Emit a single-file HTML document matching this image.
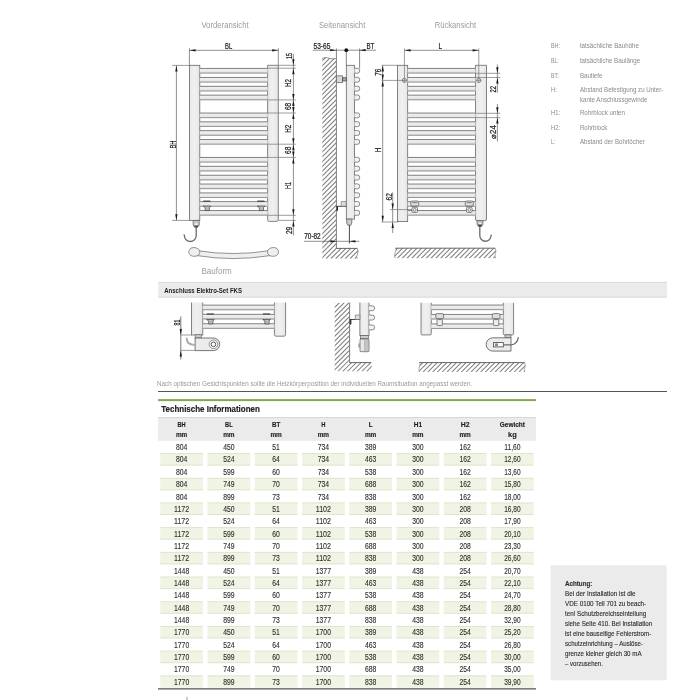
<!DOCTYPE html>
<html><head><meta charset="utf-8"><style>
html,body{margin:0;padding:0;background:#fff;width:700px;height:700px;overflow:hidden;}
</style></head><body>
<svg width="700" height="700" viewBox="0 0 700 700" font-family='"Liberation Sans", sans-serif' style="position:absolute;left:0;top:0;will-change:transform">
<rect width="700" height="700" fill="#fff"/>
<text x="201.4" y="28.3" font-size="8.6" fill="#9a9a9a" font-weight="normal" text-anchor="start" textLength="47.2" lengthAdjust="spacingAndGlyphs" >Vorderansicht</text>
<text x="318.9" y="28.3" font-size="8.6" fill="#9a9a9a" font-weight="normal" text-anchor="start" textLength="46.4" lengthAdjust="spacingAndGlyphs" >Seitenansicht</text>
<text x="434.8" y="28.3" font-size="8.6" fill="#9a9a9a" font-weight="normal" text-anchor="start" textLength="41.2" lengthAdjust="spacingAndGlyphs" >Rückansicht</text>
<defs><linearGradient id="railg" x1="0" y1="0" x2="0" y2="1"><stop offset="0" stop-color="#f2f2f2"/><stop offset="0.5" stop-color="#ebebeb"/><stop offset="1" stop-color="#dcdcdc"/></linearGradient><linearGradient id="colg" x1="0" y1="0" x2="1" y2="0"><stop offset="0" stop-color="#e9e9e9"/><stop offset="0.5" stop-color="#f0f0f0"/><stop offset="1" stop-color="#e6e6e6"/></linearGradient></defs>
<rect x="189.4" y="65.3" width="10.4" height="155.1" fill="url(#colg)" stroke="#666" stroke-width="0.8" rx="0" />
<path d="M267.6,65.3 H278.3 V219.6 Q278.3,221.4 276.5,221.4 H269.4 Q267.6,221.4 267.6,219.6 Z" fill="url(#colg)" stroke="#666" stroke-width="0.8"/>
<rect x="199.8" y="68.3" width="67.80000000000001" height="5.2" fill="url(#railg)" stroke="none" stroke-width="0.8" rx="0" />
<line x1="199.8" y1="68.45" x2="267.6" y2="68.45" stroke="#727272" stroke-width="0.9" />
<line x1="199.8" y1="73.05" x2="267.6" y2="73.05" stroke="#959595" stroke-width="1.0" />
<rect x="199.8" y="77.3" width="67.80000000000001" height="5.2" fill="url(#railg)" stroke="none" stroke-width="0.8" rx="0" />
<line x1="199.8" y1="77.45" x2="267.6" y2="77.45" stroke="#727272" stroke-width="0.9" />
<line x1="199.8" y1="82.05" x2="267.6" y2="82.05" stroke="#959595" stroke-width="1.0" />
<rect x="199.8" y="86.2" width="67.80000000000001" height="5.2" fill="url(#railg)" stroke="none" stroke-width="0.8" rx="0" />
<line x1="199.8" y1="86.35000000000001" x2="267.6" y2="86.35000000000001" stroke="#727272" stroke-width="0.9" />
<line x1="199.8" y1="90.95" x2="267.6" y2="90.95" stroke="#959595" stroke-width="1.0" />
<rect x="199.8" y="95.0" width="67.80000000000001" height="5.2" fill="url(#railg)" stroke="none" stroke-width="0.8" rx="0" />
<line x1="199.8" y1="95.15" x2="267.6" y2="95.15" stroke="#727272" stroke-width="0.9" />
<line x1="199.8" y1="99.75" x2="267.6" y2="99.75" stroke="#959595" stroke-width="1.0" />
<rect x="199.8" y="112.9" width="67.80000000000001" height="5.2" fill="url(#railg)" stroke="none" stroke-width="0.8" rx="0" />
<line x1="199.8" y1="113.05000000000001" x2="267.6" y2="113.05000000000001" stroke="#727272" stroke-width="0.9" />
<line x1="199.8" y1="117.65" x2="267.6" y2="117.65" stroke="#959595" stroke-width="1.0" />
<rect x="199.8" y="121.7" width="67.80000000000001" height="5.2" fill="url(#railg)" stroke="none" stroke-width="0.8" rx="0" />
<line x1="199.8" y1="121.85000000000001" x2="267.6" y2="121.85000000000001" stroke="#727272" stroke-width="0.9" />
<line x1="199.8" y1="126.45" x2="267.6" y2="126.45" stroke="#959595" stroke-width="1.0" />
<rect x="199.8" y="130.5" width="67.80000000000001" height="5.2" fill="url(#railg)" stroke="none" stroke-width="0.8" rx="0" />
<line x1="199.8" y1="130.65" x2="267.6" y2="130.65" stroke="#727272" stroke-width="0.9" />
<line x1="199.8" y1="135.25" x2="267.6" y2="135.25" stroke="#959595" stroke-width="1.0" />
<rect x="199.8" y="139.4" width="67.80000000000001" height="5.2" fill="url(#railg)" stroke="none" stroke-width="0.8" rx="0" />
<line x1="199.8" y1="139.55" x2="267.6" y2="139.55" stroke="#727272" stroke-width="0.9" />
<line x1="199.8" y1="144.15" x2="267.6" y2="144.15" stroke="#959595" stroke-width="1.0" />
<rect x="199.8" y="157.3" width="67.80000000000001" height="5.2" fill="url(#railg)" stroke="none" stroke-width="0.8" rx="0" />
<line x1="199.8" y1="157.45000000000002" x2="267.6" y2="157.45000000000002" stroke="#727272" stroke-width="0.9" />
<line x1="199.8" y1="162.05" x2="267.6" y2="162.05" stroke="#959595" stroke-width="1.0" />
<rect x="199.8" y="166.2" width="67.80000000000001" height="5.2" fill="url(#railg)" stroke="none" stroke-width="0.8" rx="0" />
<line x1="199.8" y1="166.35" x2="267.6" y2="166.35" stroke="#727272" stroke-width="0.9" />
<line x1="199.8" y1="170.95" x2="267.6" y2="170.95" stroke="#959595" stroke-width="1.0" />
<rect x="199.8" y="175.1" width="67.80000000000001" height="5.2" fill="url(#railg)" stroke="none" stroke-width="0.8" rx="0" />
<line x1="199.8" y1="175.25" x2="267.6" y2="175.25" stroke="#727272" stroke-width="0.9" />
<line x1="199.8" y1="179.85" x2="267.6" y2="179.85" stroke="#959595" stroke-width="1.0" />
<rect x="199.8" y="183.9" width="67.80000000000001" height="5.2" fill="url(#railg)" stroke="none" stroke-width="0.8" rx="0" />
<line x1="199.8" y1="184.05" x2="267.6" y2="184.05" stroke="#727272" stroke-width="0.9" />
<line x1="199.8" y1="188.65" x2="267.6" y2="188.65" stroke="#959595" stroke-width="1.0" />
<rect x="199.8" y="192.8" width="67.80000000000001" height="5.2" fill="url(#railg)" stroke="none" stroke-width="0.8" rx="0" />
<line x1="199.8" y1="192.95000000000002" x2="267.6" y2="192.95000000000002" stroke="#727272" stroke-width="0.9" />
<line x1="199.8" y1="197.55" x2="267.6" y2="197.55" stroke="#959595" stroke-width="1.0" />
<rect x="199.8" y="201.5" width="67.80000000000001" height="5.2" fill="url(#railg)" stroke="none" stroke-width="0.8" rx="0" />
<line x1="199.8" y1="201.65" x2="267.6" y2="201.65" stroke="#727272" stroke-width="0.9" />
<line x1="199.8" y1="206.25" x2="267.6" y2="206.25" stroke="#959595" stroke-width="1.0" />
<rect x="199.8" y="210.4" width="67.80000000000001" height="5.2" fill="url(#railg)" stroke="none" stroke-width="0.8" rx="0" />
<line x1="199.8" y1="210.55" x2="267.6" y2="210.55" stroke="#727272" stroke-width="0.9" />
<line x1="199.8" y1="215.15" x2="267.6" y2="215.15" stroke="#959595" stroke-width="1.0" />
<line x1="203.20000000000002" y1="201.2" x2="210.4" y2="201.2" stroke="#444" stroke-width="1.3" />
<path d="M203.0,206.1 H210.8 L209.4,207.6 V210.6 H205.20000000000002 V207.6 Z" fill="#bbb" stroke="#444" stroke-width="0.7"/>
<line x1="257.29999999999995" y1="201.2" x2="264.5" y2="201.2" stroke="#444" stroke-width="1.3" />
<path d="M257.09999999999997,206.1 H264.9 L263.5,207.6 V210.6 H259.29999999999995 V207.6 Z" fill="#bbb" stroke="#444" stroke-width="0.7"/>
<line x1="189.4" y1="48.2" x2="189.4" y2="65.3" stroke="#6a6a6a" stroke-width="0.75" />
<line x1="278.3" y1="48.2" x2="278.3" y2="65.3" stroke="#6a6a6a" stroke-width="0.75" />
<line x1="189.4" y1="50.3" x2="278.3" y2="50.3" stroke="#6a6a6a" stroke-width="0.75" />
<path transform="translate(189.60,50.30) rotate(180)" d="M0,0 L-6.00,-1.15 L-6.00,1.15 Z" fill="#1a1a1a"/>
<path transform="translate(278.10,50.30) rotate(0)" d="M0,0 L-6.00,-1.15 L-6.00,1.15 Z" fill="#1a1a1a"/>
<text x="228.6" y="48.9" font-size="8.2" fill="#1a1a1a" font-weight="normal" text-anchor="middle" textLength="7.1" lengthAdjust="spacingAndGlyphs" stroke="#1a1a1a" stroke-width="0.22">BL</text>
<line x1="172.1" y1="65.4" x2="189.4" y2="65.4" stroke="#7c7c7c" stroke-width="0.75" />
<line x1="172.1" y1="220.4" x2="189.4" y2="220.4" stroke="#7c7c7c" stroke-width="0.75" />
<line x1="176.4" y1="65.4" x2="176.4" y2="220.4" stroke="#6a6a6a" stroke-width="0.75" />
<path transform="translate(176.40,65.60) rotate(-90)" d="M0,0 L-6.00,-1.15 L-6.00,1.15 Z" fill="#1a1a1a"/>
<path transform="translate(176.40,220.20) rotate(90)" d="M0,0 L-6.00,-1.15 L-6.00,1.15 Z" fill="#1a1a1a"/>
<text transform="translate(175.54,144.60) rotate(-90)" x="0" y="0" font-size="8.2" fill="#1a1a1a" stroke="#1a1a1a" stroke-width="0.22" text-anchor="middle" textLength="8" lengthAdjust="spacingAndGlyphs">BH</text>
<line x1="278.3" y1="65.3" x2="295.8" y2="65.3" stroke="#7c7c7c" stroke-width="0.75" />
<line x1="267.6" y1="68.2" x2="295.8" y2="68.2" stroke="#7c7c7c" stroke-width="0.75" />
<line x1="267.6" y1="99.9" x2="295.8" y2="99.9" stroke="#7c7c7c" stroke-width="0.75" />
<line x1="267.6" y1="113.0" x2="295.8" y2="113.0" stroke="#7c7c7c" stroke-width="0.75" />
<line x1="267.6" y1="144.2" x2="295.8" y2="144.2" stroke="#7c7c7c" stroke-width="0.75" />
<line x1="267.6" y1="157.4" x2="295.8" y2="157.4" stroke="#7c7c7c" stroke-width="0.75" />
<line x1="267.6" y1="215.3" x2="295.8" y2="215.3" stroke="#7c7c7c" stroke-width="0.75" />
<line x1="278.3" y1="220.4" x2="295.8" y2="220.4" stroke="#7c7c7c" stroke-width="0.75" />
<line x1="293.4" y1="54.1" x2="293.4" y2="235.4" stroke="#6a6a6a" stroke-width="0.75" />
<path transform="translate(293.40,65.30) rotate(90)" d="M0,0 L-6.00,-1.15 L-6.00,1.15 Z" fill="#1a1a1a"/>
<path transform="translate(293.40,68.20) rotate(-90)" d="M0,0 L-6.00,-1.15 L-6.00,1.15 Z" fill="#1a1a1a"/>
<path transform="translate(293.40,99.90) rotate(90)" d="M0,0 L-6.00,-1.15 L-6.00,1.15 Z" fill="#1a1a1a"/>
<path transform="translate(293.40,99.90) rotate(-90)" d="M0,0 L-6.00,-1.15 L-6.00,1.15 Z" fill="#1a1a1a"/>
<path transform="translate(293.40,113.00) rotate(90)" d="M0,0 L-6.00,-1.15 L-6.00,1.15 Z" fill="#1a1a1a"/>
<path transform="translate(293.40,113.00) rotate(-90)" d="M0,0 L-6.00,-1.15 L-6.00,1.15 Z" fill="#1a1a1a"/>
<path transform="translate(293.40,144.20) rotate(90)" d="M0,0 L-6.00,-1.15 L-6.00,1.15 Z" fill="#1a1a1a"/>
<path transform="translate(293.40,144.20) rotate(-90)" d="M0,0 L-6.00,-1.15 L-6.00,1.15 Z" fill="#1a1a1a"/>
<path transform="translate(293.40,157.40) rotate(90)" d="M0,0 L-6.00,-1.15 L-6.00,1.15 Z" fill="#1a1a1a"/>
<path transform="translate(293.40,157.40) rotate(-90)" d="M0,0 L-6.00,-1.15 L-6.00,1.15 Z" fill="#1a1a1a"/>
<path transform="translate(293.40,215.30) rotate(90)" d="M0,0 L-6.00,-1.15 L-6.00,1.15 Z" fill="#1a1a1a"/>
<path transform="translate(293.40,220.40) rotate(-90)" d="M0,0 L-6.00,-1.15 L-6.00,1.15 Z" fill="#1a1a1a"/>
<text transform="translate(291.74,55.90) rotate(-90)" x="0" y="0" font-size="8.2" fill="#1a1a1a" stroke="#1a1a1a" stroke-width="0.22" text-anchor="middle" textLength="6" lengthAdjust="spacingAndGlyphs">15</text>
<text transform="translate(291.34,83.00) rotate(-90)" x="0" y="0" font-size="8.2" fill="#1a1a1a" stroke="#1a1a1a" stroke-width="0.22" text-anchor="middle" textLength="8" lengthAdjust="spacingAndGlyphs">H2</text>
<text transform="translate(290.94,106.50) rotate(-90)" x="0" y="0" font-size="8.2" fill="#1a1a1a" stroke="#1a1a1a" stroke-width="0.22" text-anchor="middle" textLength="7.2" lengthAdjust="spacingAndGlyphs">68</text>
<text transform="translate(291.14,128.70) rotate(-90)" x="0" y="0" font-size="8.2" fill="#1a1a1a" stroke="#1a1a1a" stroke-width="0.22" text-anchor="middle" textLength="8" lengthAdjust="spacingAndGlyphs">H2</text>
<text transform="translate(290.94,150.30) rotate(-90)" x="0" y="0" font-size="8.2" fill="#1a1a1a" stroke="#1a1a1a" stroke-width="0.22" text-anchor="middle" textLength="7.2" lengthAdjust="spacingAndGlyphs">68</text>
<text transform="translate(291.04,185.40) rotate(-90)" x="0" y="0" font-size="8.2" fill="#1a1a1a" stroke="#1a1a1a" stroke-width="0.22" text-anchor="middle" textLength="7" lengthAdjust="spacingAndGlyphs">H1</text>
<text transform="translate(291.74,230.50) rotate(-90)" x="0" y="0" font-size="8.2" fill="#1a1a1a" stroke="#1a1a1a" stroke-width="0.22" text-anchor="middle" textLength="7.2" lengthAdjust="spacingAndGlyphs">29</text>
<path d="M193.2,220.4 H199.2 V225 L197.8,227.2 H194.6 L193.2,225 Z" fill="#ccc" stroke="#555" stroke-width="0.7"/>
<circle cx="196.2" cy="224.2" r="1" fill="#fff"/>
<path d="M196.2,227.2 V235.6 A5.9,5.9 0 0 1 184.4,235.6 L184,234.4" fill="none" stroke="#707070" stroke-width="1.35"/>
<path d="M194.2,225.4 H198.2 L197.5,227.2 H194.9 Z" fill="#444"/>
<path d="M197,250.6 Q233,256.5 270,250.6 L270,255.6 Q233,261.5 197,255.6 Z" fill="#efefef" stroke="#777" stroke-width="0.8"/>
<path d="M189,250.5 Q190,247.2 194,247.5 Q199.5,248 199.8,251.8 Q200,255.8 195,256.3 Q189.5,256.5 188.8,252.5 Z" fill="#efefef" stroke="#777" stroke-width="0.8"/>
<path d="M278.3,250.5 Q277.3,247.2 273.3,247.5 Q267.8,248 267.5,251.8 Q267.3,255.8 272.3,256.3 Q277.8,256.5 278.5,252.5 Z" fill="#efefef" stroke="#777" stroke-width="0.8"/>
<text x="201.5" y="273.5" font-size="8.6" fill="#9a9a9a" font-weight="normal" text-anchor="start" textLength="30.2" lengthAdjust="spacingAndGlyphs" >Bauform</text>
<clipPath id="wallA"><path d="M322.3,59 Q324.5,56.6 327.5,57.8 Q331,59.2 336.4,58.6 V248.4 H357.3 Q359,251 357.5,254 Q356,256.5 357.2,258.7 H322.3 Z"/></clipPath>
<g clip-path="url(#wallA)" stroke="#7e7e7e" stroke-width="1.05">
<line x1="119.60" y1="258.7" x2="322.30" y2="56"/>
<line x1="124.40" y1="258.7" x2="327.10" y2="56"/>
<line x1="129.20" y1="258.7" x2="331.90" y2="56"/>
<line x1="134.00" y1="258.7" x2="336.70" y2="56"/>
<line x1="138.80" y1="258.7" x2="341.50" y2="56"/>
<line x1="143.60" y1="258.7" x2="346.30" y2="56"/>
<line x1="148.40" y1="258.7" x2="351.10" y2="56"/>
<line x1="153.20" y1="258.7" x2="355.90" y2="56"/>
<line x1="158.00" y1="258.7" x2="360.70" y2="56"/>
<line x1="162.80" y1="258.7" x2="365.50" y2="56"/>
<line x1="167.60" y1="258.7" x2="370.30" y2="56"/>
<line x1="172.40" y1="258.7" x2="375.10" y2="56"/>
<line x1="177.20" y1="258.7" x2="379.90" y2="56"/>
<line x1="182.00" y1="258.7" x2="384.70" y2="56"/>
<line x1="186.80" y1="258.7" x2="389.50" y2="56"/>
<line x1="191.60" y1="258.7" x2="394.30" y2="56"/>
<line x1="196.40" y1="258.7" x2="399.10" y2="56"/>
<line x1="201.20" y1="258.7" x2="403.90" y2="56"/>
<line x1="206.00" y1="258.7" x2="408.70" y2="56"/>
<line x1="210.80" y1="258.7" x2="413.50" y2="56"/>
<line x1="215.60" y1="258.7" x2="418.30" y2="56"/>
<line x1="220.40" y1="258.7" x2="423.10" y2="56"/>
<line x1="225.20" y1="258.7" x2="427.90" y2="56"/>
<line x1="230.00" y1="258.7" x2="432.70" y2="56"/>
<line x1="234.80" y1="258.7" x2="437.50" y2="56"/>
<line x1="239.60" y1="258.7" x2="442.30" y2="56"/>
<line x1="244.40" y1="258.7" x2="447.10" y2="56"/>
<line x1="249.20" y1="258.7" x2="451.90" y2="56"/>
<line x1="254.00" y1="258.7" x2="456.70" y2="56"/>
<line x1="258.80" y1="258.7" x2="461.50" y2="56"/>
<line x1="263.60" y1="258.7" x2="466.30" y2="56"/>
<line x1="268.40" y1="258.7" x2="471.10" y2="56"/>
<line x1="273.20" y1="258.7" x2="475.90" y2="56"/>
<line x1="278.00" y1="258.7" x2="480.70" y2="56"/>
<line x1="282.80" y1="258.7" x2="485.50" y2="56"/>
<line x1="287.60" y1="258.7" x2="490.30" y2="56"/>
<line x1="292.40" y1="258.7" x2="495.10" y2="56"/>
<line x1="297.20" y1="258.7" x2="499.90" y2="56"/>
<line x1="302.00" y1="258.7" x2="504.70" y2="56"/>
<line x1="306.80" y1="258.7" x2="509.50" y2="56"/>
<line x1="311.60" y1="258.7" x2="514.30" y2="56"/>
<line x1="316.40" y1="258.7" x2="519.10" y2="56"/>
<line x1="321.20" y1="258.7" x2="523.90" y2="56"/>
<line x1="326.00" y1="258.7" x2="528.70" y2="56"/>
<line x1="330.80" y1="258.7" x2="533.50" y2="56"/>
<line x1="335.60" y1="258.7" x2="538.30" y2="56"/>
<line x1="340.40" y1="258.7" x2="543.10" y2="56"/>
<line x1="345.20" y1="258.7" x2="547.90" y2="56"/>
<line x1="350.00" y1="258.7" x2="552.70" y2="56"/>
<line x1="354.80" y1="258.7" x2="557.50" y2="56"/>
<line x1="359.60" y1="258.7" x2="562.30" y2="56"/>
</g>
<path d="M322,59 Q324.5,56.6 327.5,57.8 Q331,59.2 336.4,58.6" fill="none" stroke="#777" stroke-width="0.8"/>
<line x1="336.4" y1="48.5" x2="336.4" y2="248.8" stroke="#777" stroke-width="0.95" />
<line x1="336.4" y1="248.4" x2="357.3" y2="248.4" stroke="#555" stroke-width="0.9" />
<path d="M357.3,248.4 Q359,251 357.5,254 Q356,256.5 357.2,258.6" fill="none" stroke="#777" stroke-width="0.7"/>
<line x1="346.3" y1="50.2" x2="346.3" y2="65.3" stroke="#666" stroke-width="0.8" />
<rect x="346.3" y="65.3" width="8.2" height="153.8" fill="url(#colg)" stroke="#666" stroke-width="0.8" rx="0" />
<path d="M354.5,68.30 H357.6 A2.1,2.45 0 0 1 357.6,73.20 H354.5" fill="#f2f2f2" stroke="#666" stroke-width="0.75"/>
<path d="M354.5,77.30 H357.6 A2.1,2.45 0 0 1 357.6,82.20 H354.5" fill="#f2f2f2" stroke="#666" stroke-width="0.75"/>
<path d="M354.5,86.20 H357.6 A2.1,2.45 0 0 1 357.6,91.10 H354.5" fill="#f2f2f2" stroke="#666" stroke-width="0.75"/>
<path d="M354.5,95.00 H357.6 A2.1,2.45 0 0 1 357.6,99.90 H354.5" fill="#f2f2f2" stroke="#666" stroke-width="0.75"/>
<path d="M354.5,112.90 H357.6 A2.1,2.45 0 0 1 357.6,117.80 H354.5" fill="#f2f2f2" stroke="#666" stroke-width="0.75"/>
<path d="M354.5,121.70 H357.6 A2.1,2.45 0 0 1 357.6,126.60 H354.5" fill="#f2f2f2" stroke="#666" stroke-width="0.75"/>
<path d="M354.5,130.50 H357.6 A2.1,2.45 0 0 1 357.6,135.40 H354.5" fill="#f2f2f2" stroke="#666" stroke-width="0.75"/>
<path d="M354.5,139.40 H357.6 A2.1,2.45 0 0 1 357.6,144.30 H354.5" fill="#f2f2f2" stroke="#666" stroke-width="0.75"/>
<path d="M354.5,157.30 H357.6 A2.1,2.45 0 0 1 357.6,162.20 H354.5" fill="#f2f2f2" stroke="#666" stroke-width="0.75"/>
<path d="M354.5,166.20 H357.6 A2.1,2.45 0 0 1 357.6,171.10 H354.5" fill="#f2f2f2" stroke="#666" stroke-width="0.75"/>
<path d="M354.5,175.10 H357.6 A2.1,2.45 0 0 1 357.6,180.00 H354.5" fill="#f2f2f2" stroke="#666" stroke-width="0.75"/>
<path d="M354.5,183.90 H357.6 A2.1,2.45 0 0 1 357.6,188.80 H354.5" fill="#f2f2f2" stroke="#666" stroke-width="0.75"/>
<path d="M354.5,192.80 H357.6 A2.1,2.45 0 0 1 357.6,197.70 H354.5" fill="#f2f2f2" stroke="#666" stroke-width="0.75"/>
<path d="M354.5,201.50 H357.6 A2.1,2.45 0 0 1 357.6,206.40 H354.5" fill="#f2f2f2" stroke="#666" stroke-width="0.75"/>
<path d="M354.5,210.40 H357.6 A2.1,2.45 0 0 1 357.6,215.30 H354.5" fill="#f2f2f2" stroke="#666" stroke-width="0.75"/>
<line x1="359.6" y1="48.5" x2="359.6" y2="68.3" stroke="#666" stroke-width="0.8" />
<line x1="312.6" y1="50.2" x2="376" y2="50.2" stroke="#6a6a6a" stroke-width="0.75" />
<path transform="translate(336.20,50.20) rotate(0)" d="M0,0 L-6.00,-1.15 L-6.00,1.15 Z" fill="#1a1a1a"/>
<path transform="translate(359.60,50.20) rotate(180)" d="M0,0 L-6.00,-1.15 L-6.00,1.15 Z" fill="#1a1a1a"/>
<circle cx="346.3" cy="50.2" r="1.9" fill="#111"/>
<text x="313.5" y="48.9" font-size="8.2" fill="#1a1a1a" font-weight="normal" text-anchor="start" textLength="16.8" lengthAdjust="spacingAndGlyphs" stroke="#1a1a1a" stroke-width="0.22">53-65</text>
<text x="366.5" y="48.9" font-size="8.2" fill="#1a1a1a" font-weight="normal" text-anchor="start" textLength="7.8" lengthAdjust="spacingAndGlyphs" stroke="#1a1a1a" stroke-width="0.22">BT</text>
<path d="M336.4,75.8 H342.6 V82.6 H336.4 Z" fill="#d8d8d8" stroke="#555" stroke-width="0.7"/>
<path d="M342.6,77.7 H346.3 V81 H342.6 Z" fill="#aaa" stroke="#444" stroke-width="0.7"/>
<line x1="336.4" y1="206.3" x2="346.3" y2="206.3" stroke="#333" stroke-width="0.9" />
<path d="M341.2,201.6 H346.2 V206.2 H341.2 Z" fill="#ddd" stroke="#666" stroke-width="0.6"/>
<rect x="336.4" y="206.3" width="1.6" height="4.6" fill="#333" stroke="none" stroke-width="0.8" rx="0" />
<path d="M346.7,219.1 H351.8 V223 L350.8,225.2 H347.7 L346.7,223 Z" fill="#ccc" stroke="#555" stroke-width="0.7"/>
<line x1="349.4" y1="225.2" x2="349.4" y2="243.5" stroke="#333" stroke-width="0.9" />
<line x1="304" y1="241.3" x2="359.3" y2="241.3" stroke="#6a6a6a" stroke-width="0.75" />
<path transform="translate(336.40,241.30) rotate(0)" d="M0,0 L-6.00,-1.15 L-6.00,1.15 Z" fill="#1a1a1a"/>
<path transform="translate(349.40,241.30) rotate(180)" d="M0,0 L-6.00,-1.15 L-6.00,1.15 Z" fill="#1a1a1a"/>
<text x="304.3" y="239.4" font-size="8.2" fill="#1a1a1a" font-weight="normal" text-anchor="start" textLength="16.4" lengthAdjust="spacingAndGlyphs" stroke="#1a1a1a" stroke-width="0.22">70-82</text>
<rect x="397.4" y="65.3" width="10.3" height="156.3" fill="url(#colg)" stroke="#666" stroke-width="0.8" rx="0" />
<path d="M475.5,65.3 H486.5 V219 Q486.5,220.7 484.8,220.7 H477.2 Q475.5,220.7 475.5,219 Z" fill="url(#colg)" stroke="#666" stroke-width="0.8"/>
<rect x="407.7" y="68.3" width="67.80000000000001" height="5.2" fill="url(#railg)" stroke="none" stroke-width="0.8" rx="0" />
<line x1="407.7" y1="68.45" x2="475.5" y2="68.45" stroke="#727272" stroke-width="0.9" />
<line x1="407.7" y1="73.05" x2="475.5" y2="73.05" stroke="#959595" stroke-width="1.0" />
<rect x="407.7" y="77.3" width="67.80000000000001" height="5.2" fill="url(#railg)" stroke="none" stroke-width="0.8" rx="0" />
<line x1="407.7" y1="77.45" x2="475.5" y2="77.45" stroke="#727272" stroke-width="0.9" />
<line x1="407.7" y1="82.05" x2="475.5" y2="82.05" stroke="#959595" stroke-width="1.0" />
<rect x="407.7" y="86.2" width="67.80000000000001" height="5.2" fill="url(#railg)" stroke="none" stroke-width="0.8" rx="0" />
<line x1="407.7" y1="86.35000000000001" x2="475.5" y2="86.35000000000001" stroke="#727272" stroke-width="0.9" />
<line x1="407.7" y1="90.95" x2="475.5" y2="90.95" stroke="#959595" stroke-width="1.0" />
<rect x="407.7" y="95.0" width="67.80000000000001" height="5.2" fill="url(#railg)" stroke="none" stroke-width="0.8" rx="0" />
<line x1="407.7" y1="95.15" x2="475.5" y2="95.15" stroke="#727272" stroke-width="0.9" />
<line x1="407.7" y1="99.75" x2="475.5" y2="99.75" stroke="#959595" stroke-width="1.0" />
<rect x="407.7" y="112.9" width="67.80000000000001" height="5.2" fill="url(#railg)" stroke="none" stroke-width="0.8" rx="0" />
<line x1="407.7" y1="113.05000000000001" x2="475.5" y2="113.05000000000001" stroke="#727272" stroke-width="0.9" />
<line x1="407.7" y1="117.65" x2="475.5" y2="117.65" stroke="#959595" stroke-width="1.0" />
<rect x="407.7" y="121.7" width="67.80000000000001" height="5.2" fill="url(#railg)" stroke="none" stroke-width="0.8" rx="0" />
<line x1="407.7" y1="121.85000000000001" x2="475.5" y2="121.85000000000001" stroke="#727272" stroke-width="0.9" />
<line x1="407.7" y1="126.45" x2="475.5" y2="126.45" stroke="#959595" stroke-width="1.0" />
<rect x="407.7" y="130.5" width="67.80000000000001" height="5.2" fill="url(#railg)" stroke="none" stroke-width="0.8" rx="0" />
<line x1="407.7" y1="130.65" x2="475.5" y2="130.65" stroke="#727272" stroke-width="0.9" />
<line x1="407.7" y1="135.25" x2="475.5" y2="135.25" stroke="#959595" stroke-width="1.0" />
<rect x="407.7" y="139.4" width="67.80000000000001" height="5.2" fill="url(#railg)" stroke="none" stroke-width="0.8" rx="0" />
<line x1="407.7" y1="139.55" x2="475.5" y2="139.55" stroke="#727272" stroke-width="0.9" />
<line x1="407.7" y1="144.15" x2="475.5" y2="144.15" stroke="#959595" stroke-width="1.0" />
<rect x="407.7" y="157.3" width="67.80000000000001" height="5.2" fill="url(#railg)" stroke="none" stroke-width="0.8" rx="0" />
<line x1="407.7" y1="157.45000000000002" x2="475.5" y2="157.45000000000002" stroke="#727272" stroke-width="0.9" />
<line x1="407.7" y1="162.05" x2="475.5" y2="162.05" stroke="#959595" stroke-width="1.0" />
<rect x="407.7" y="166.2" width="67.80000000000001" height="5.2" fill="url(#railg)" stroke="none" stroke-width="0.8" rx="0" />
<line x1="407.7" y1="166.35" x2="475.5" y2="166.35" stroke="#727272" stroke-width="0.9" />
<line x1="407.7" y1="170.95" x2="475.5" y2="170.95" stroke="#959595" stroke-width="1.0" />
<rect x="407.7" y="175.1" width="67.80000000000001" height="5.2" fill="url(#railg)" stroke="none" stroke-width="0.8" rx="0" />
<line x1="407.7" y1="175.25" x2="475.5" y2="175.25" stroke="#727272" stroke-width="0.9" />
<line x1="407.7" y1="179.85" x2="475.5" y2="179.85" stroke="#959595" stroke-width="1.0" />
<rect x="407.7" y="183.9" width="67.80000000000001" height="5.2" fill="url(#railg)" stroke="none" stroke-width="0.8" rx="0" />
<line x1="407.7" y1="184.05" x2="475.5" y2="184.05" stroke="#727272" stroke-width="0.9" />
<line x1="407.7" y1="188.65" x2="475.5" y2="188.65" stroke="#959595" stroke-width="1.0" />
<rect x="407.7" y="192.8" width="67.80000000000001" height="5.2" fill="url(#railg)" stroke="none" stroke-width="0.8" rx="0" />
<line x1="407.7" y1="192.95000000000002" x2="475.5" y2="192.95000000000002" stroke="#727272" stroke-width="0.9" />
<line x1="407.7" y1="197.55" x2="475.5" y2="197.55" stroke="#959595" stroke-width="1.0" />
<rect x="407.7" y="201.5" width="67.80000000000001" height="5.2" fill="url(#railg)" stroke="none" stroke-width="0.8" rx="0" />
<line x1="407.7" y1="201.65" x2="475.5" y2="201.65" stroke="#727272" stroke-width="0.9" />
<line x1="407.7" y1="206.25" x2="475.5" y2="206.25" stroke="#959595" stroke-width="1.0" />
<rect x="407.7" y="210.4" width="67.80000000000001" height="5.2" fill="url(#railg)" stroke="none" stroke-width="0.8" rx="0" />
<line x1="407.7" y1="210.55" x2="475.5" y2="210.55" stroke="#727272" stroke-width="0.9" />
<line x1="407.7" y1="215.15" x2="475.5" y2="215.15" stroke="#959595" stroke-width="1.0" />
<circle cx="404.4" cy="80.4" r="2.1" fill="none" stroke="#666" stroke-width="0.7"/>
<line x1="401.79999999999995" y1="80.4" x2="407.0" y2="80.4" stroke="#666" stroke-width="0.6" />
<line x1="404.4" y1="48.5" x2="404.4" y2="82.8" stroke="#7c7c7c" stroke-width="0.75" />
<circle cx="478.8" cy="80.4" r="2.1" fill="none" stroke="#666" stroke-width="0.7"/>
<line x1="476.2" y1="80.4" x2="481.40000000000003" y2="80.4" stroke="#666" stroke-width="0.6" />
<line x1="478.8" y1="48.5" x2="478.8" y2="82.8" stroke="#7c7c7c" stroke-width="0.75" />
<line x1="404.4" y1="50.3" x2="478.8" y2="50.3" stroke="#6a6a6a" stroke-width="0.75" />
<path transform="translate(404.60,50.30) rotate(180)" d="M0,0 L-6.00,-1.15 L-6.00,1.15 Z" fill="#1a1a1a"/>
<path transform="translate(478.60,50.30) rotate(0)" d="M0,0 L-6.00,-1.15 L-6.00,1.15 Z" fill="#1a1a1a"/>
<text x="440.4" y="49" font-size="8.2" fill="#1a1a1a" font-weight="normal" text-anchor="middle" textLength="3.6" lengthAdjust="spacingAndGlyphs" stroke="#1a1a1a" stroke-width="0.22">L</text>
<line x1="381.6" y1="65.3" x2="397.4" y2="65.3" stroke="#7c7c7c" stroke-width="0.75" />
<line x1="381.6" y1="80.4" x2="404.4" y2="80.4" stroke="#7c7c7c" stroke-width="0.75" />
<line x1="381.6" y1="222" x2="398.3" y2="222" stroke="#7c7c7c" stroke-width="0.75" />
<line x1="382.7" y1="65.3" x2="382.7" y2="222" stroke="#6a6a6a" stroke-width="0.75" />
<path transform="translate(382.70,65.50) rotate(-90)" d="M0,0 L-6.00,-1.15 L-6.00,1.15 Z" fill="#1a1a1a"/>
<path transform="translate(382.70,80.40) rotate(90)" d="M0,0 L-6.00,-1.15 L-6.00,1.15 Z" fill="#1a1a1a"/>
<path transform="translate(382.70,80.40) rotate(-90)" d="M0,0 L-6.00,-1.15 L-6.00,1.15 Z" fill="#1a1a1a"/>
<path transform="translate(382.70,221.80) rotate(90)" d="M0,0 L-6.00,-1.15 L-6.00,1.15 Z" fill="#1a1a1a"/>
<text transform="translate(381.04,72.20) rotate(-90)" x="0" y="0" font-size="8.2" fill="#1a1a1a" stroke="#1a1a1a" stroke-width="0.22" text-anchor="middle" textLength="7" lengthAdjust="spacingAndGlyphs">76</text>
<text transform="translate(380.94,150.00) rotate(-90)" x="0" y="0" font-size="8.2" fill="#1a1a1a" stroke="#1a1a1a" stroke-width="0.22" text-anchor="middle" textLength="4.4" lengthAdjust="spacingAndGlyphs">H</text>
<line x1="392.7" y1="192.4" x2="392.7" y2="233.1" stroke="#6a6a6a" stroke-width="0.75" />
<line x1="390.1" y1="209.6" x2="418" y2="209.6" stroke="#7c7c7c" stroke-width="0.75" />
<path transform="translate(392.70,209.60) rotate(90)" d="M0,0 L-6.00,-1.15 L-6.00,1.15 Z" fill="#1a1a1a"/>
<path transform="translate(392.70,222.00) rotate(-90)" d="M0,0 L-6.00,-1.15 L-6.00,1.15 Z" fill="#1a1a1a"/>
<text transform="translate(391.84,196.80) rotate(-90)" x="0" y="0" font-size="8.2" fill="#1a1a1a" stroke="#1a1a1a" stroke-width="0.22" text-anchor="middle" textLength="7.2" lengthAdjust="spacingAndGlyphs">62</text>
<line x1="475.5" y1="73.3" x2="500.3" y2="73.3" stroke="#7c7c7c" stroke-width="0.75" />
<line x1="475.5" y1="77.5" x2="500.3" y2="77.5" stroke="#7c7c7c" stroke-width="0.75" />
<line x1="475.5" y1="113.3" x2="500.3" y2="113.3" stroke="#7c7c7c" stroke-width="0.75" />
<line x1="475.5" y1="117.6" x2="500.3" y2="117.6" stroke="#7c7c7c" stroke-width="0.75" />
<line x1="497.4" y1="64.4" x2="497.4" y2="92.7" stroke="#6a6a6a" stroke-width="0.75" />
<path transform="translate(497.40,73.30) rotate(90)" d="M0,0 L-6.00,-1.15 L-6.00,1.15 Z" fill="#1a1a1a"/>
<path transform="translate(497.40,77.50) rotate(-90)" d="M0,0 L-6.00,-1.15 L-6.00,1.15 Z" fill="#1a1a1a"/>
<text transform="translate(496.04,89.30) rotate(-90)" x="0" y="0" font-size="8.2" fill="#1a1a1a" stroke="#1a1a1a" stroke-width="0.22" text-anchor="middle" textLength="6.5" lengthAdjust="spacingAndGlyphs">22</text>
<line x1="497.4" y1="103.9" x2="497.4" y2="141.6" stroke="#6a6a6a" stroke-width="0.75" />
<path transform="translate(497.40,113.30) rotate(90)" d="M0,0 L-6.00,-1.15 L-6.00,1.15 Z" fill="#1a1a1a"/>
<path transform="translate(497.40,117.60) rotate(-90)" d="M0,0 L-6.00,-1.15 L-6.00,1.15 Z" fill="#1a1a1a"/>
<text transform="translate(496.34,132.00) rotate(-90)" x="0" y="0" font-size="8.2" fill="#1a1a1a" stroke="#1a1a1a" stroke-width="0.22" text-anchor="middle" textLength="13.5" lengthAdjust="spacingAndGlyphs">⌀24</text>
<rect x="410.7" y="201" width="8" height="5" rx="1.5" fill="#ddd" stroke="#555" stroke-width="0.7"/>
<line x1="412.2" y1="202.6" x2="417.2" y2="202.6" stroke="#555" stroke-width="0.7" />
<rect x="411.9" y="207.2" width="5.6" height="5.2" rx="1" fill="#eee" stroke="#555" stroke-width="0.7"/>
<circle cx="414.7" cy="209.8" r="1.4" fill="none" stroke="#555" stroke-width="0.6"/>
<rect x="465.3" y="201" width="8" height="5" rx="1.5" fill="#ddd" stroke="#555" stroke-width="0.7"/>
<line x1="466.8" y1="202.6" x2="471.8" y2="202.6" stroke="#555" stroke-width="0.7" />
<rect x="466.5" y="207.2" width="5.6" height="5.2" rx="1" fill="#eee" stroke="#555" stroke-width="0.7"/>
<circle cx="469.3" cy="209.8" r="1.4" fill="none" stroke="#555" stroke-width="0.6"/>
<path d="M477.1,220.7 H482.9 V224.4 L481.6,226.4 H478.4 L477.1,224.4 Z" fill="#ccc" stroke="#555" stroke-width="0.7"/>
<circle cx="480" cy="223.6" r="0.9" fill="#fff"/>
<path d="M479.8,226.4 V235.6 A5.6,5.6 0 0 0 491,235.8 L491.4,234.6" fill="none" stroke="#707070" stroke-width="1.35"/>
<path d="M477.9,224.6 H482.1 L481.4,226.4 H478.6 Z" fill="#444"/>
<clipPath id="floorB"><path d="M395.8,248.2 H495.2 Q496.6,251 495.4,253.5 Q494.4,256 495.6,258.3 H395.2 Q393.8,255.5 395,253 Q396.2,250.5 395.8,248.2 Z"/></clipPath>
<g clip-path="url(#floorB)" stroke="#7e7e7e" stroke-width="1.05">
<line x1="382.90" y1="258.3" x2="393.00" y2="248.2"/>
<line x1="387.70" y1="258.3" x2="397.80" y2="248.2"/>
<line x1="392.50" y1="258.3" x2="402.60" y2="248.2"/>
<line x1="397.30" y1="258.3" x2="407.40" y2="248.2"/>
<line x1="402.10" y1="258.3" x2="412.20" y2="248.2"/>
<line x1="406.90" y1="258.3" x2="417.00" y2="248.2"/>
<line x1="411.70" y1="258.3" x2="421.80" y2="248.2"/>
<line x1="416.50" y1="258.3" x2="426.60" y2="248.2"/>
<line x1="421.30" y1="258.3" x2="431.40" y2="248.2"/>
<line x1="426.10" y1="258.3" x2="436.20" y2="248.2"/>
<line x1="430.90" y1="258.3" x2="441.00" y2="248.2"/>
<line x1="435.70" y1="258.3" x2="445.80" y2="248.2"/>
<line x1="440.50" y1="258.3" x2="450.60" y2="248.2"/>
<line x1="445.30" y1="258.3" x2="455.40" y2="248.2"/>
<line x1="450.10" y1="258.3" x2="460.20" y2="248.2"/>
<line x1="454.90" y1="258.3" x2="465.00" y2="248.2"/>
<line x1="459.70" y1="258.3" x2="469.80" y2="248.2"/>
<line x1="464.50" y1="258.3" x2="474.60" y2="248.2"/>
<line x1="469.30" y1="258.3" x2="479.40" y2="248.2"/>
<line x1="474.10" y1="258.3" x2="484.20" y2="248.2"/>
<line x1="478.90" y1="258.3" x2="489.00" y2="248.2"/>
<line x1="483.70" y1="258.3" x2="493.80" y2="248.2"/>
<line x1="488.50" y1="258.3" x2="498.60" y2="248.2"/>
<line x1="493.30" y1="258.3" x2="503.40" y2="248.2"/>
<line x1="498.10" y1="258.3" x2="508.20" y2="248.2"/>
</g>
<path d="M495.2,248.2 Q496.6,251 495.4,253.5 Q494.4,256 495.6,258.3" fill="none" stroke="#8a8a8a" stroke-width="0.7"/>
<path d="M395.8,248.2 Q396.2,250.5 395,253 Q393.8,255.5 395.2,258.3" fill="none" stroke="#8a8a8a" stroke-width="0.7"/>
<line x1="395.5" y1="248.2" x2="495.2" y2="248.2" stroke="#555" stroke-width="0.9" />
<text x="551" y="48.4" font-size="7.0" fill="#8a8a8a" font-weight="normal" text-anchor="start" textLength="9" lengthAdjust="spacingAndGlyphs" >BH:</text>
<text x="579.9" y="48.4" font-size="7.0" fill="#8a8a8a" font-weight="normal" text-anchor="start" textLength="59.1" lengthAdjust="spacingAndGlyphs" >tatsächliche Bauhöhe</text>
<text x="551" y="63" font-size="7.0" fill="#8a8a8a" font-weight="normal" text-anchor="start" textLength="7.8" lengthAdjust="spacingAndGlyphs" >BL:</text>
<text x="579.9" y="63" font-size="7.0" fill="#8a8a8a" font-weight="normal" text-anchor="start" textLength="60.2" lengthAdjust="spacingAndGlyphs" >tatsächliche Baulänge</text>
<text x="551" y="77.5" font-size="7.0" fill="#8a8a8a" font-weight="normal" text-anchor="start" textLength="7.8" lengthAdjust="spacingAndGlyphs" >BT:</text>
<text x="579.9" y="77.5" font-size="7.0" fill="#8a8a8a" font-weight="normal" text-anchor="start" textLength="22.5" lengthAdjust="spacingAndGlyphs" >Bautiefe</text>
<text x="551" y="92" font-size="7.0" fill="#8a8a8a" font-weight="normal" text-anchor="start" textLength="5.8" lengthAdjust="spacingAndGlyphs" >H:</text>
<text x="579.9" y="92" font-size="7.0" fill="#8a8a8a" font-weight="normal" text-anchor="start" textLength="83.4" lengthAdjust="spacingAndGlyphs" >Abstand Befestigung zu Unter-</text>
<text x="579.9" y="102.3" font-size="7.0" fill="#8a8a8a" font-weight="normal" text-anchor="start" textLength="67.6" lengthAdjust="spacingAndGlyphs" >kante Anschlussgewinde</text>
<text x="551" y="115.1" font-size="7.0" fill="#8a8a8a" font-weight="normal" text-anchor="start" textLength="9.1" lengthAdjust="spacingAndGlyphs" >H1:</text>
<text x="579.9" y="115.1" font-size="7.0" fill="#8a8a8a" font-weight="normal" text-anchor="start" textLength="45.1" lengthAdjust="spacingAndGlyphs" >Rohrblock unten</text>
<text x="551" y="129.7" font-size="7.0" fill="#8a8a8a" font-weight="normal" text-anchor="start" textLength="9.1" lengthAdjust="spacingAndGlyphs" >H2:</text>
<text x="579.9" y="129.7" font-size="7.0" fill="#8a8a8a" font-weight="normal" text-anchor="start" textLength="27.3" lengthAdjust="spacingAndGlyphs" >Rohrblock</text>
<text x="551" y="143.8" font-size="7.0" fill="#8a8a8a" font-weight="normal" text-anchor="start" textLength="4.3" lengthAdjust="spacingAndGlyphs" >L:</text>
<text x="579.9" y="143.8" font-size="7.0" fill="#8a8a8a" font-weight="normal" text-anchor="start" textLength="64.9" lengthAdjust="spacingAndGlyphs" >Abstand der Bohrlöcher</text>
<rect x="158.2" y="282" width="508.8" height="15.6" fill="#ebebeb" stroke="none" stroke-width="0.8" rx="0" />
<line x1="158.2" y1="282.4" x2="667" y2="282.4" stroke="#d6dccb" stroke-width="0.9" />
<line x1="158.2" y1="297.2" x2="667" y2="297.2" stroke="#d6dccb" stroke-width="0.9" />
<text x="164.2" y="292.6" font-size="7" fill="#222" font-weight="bold" text-anchor="start" textLength="77.8" lengthAdjust="spacingAndGlyphs" >Anschluss Elektro-Set FKS</text>
<rect x="191.4" y="300" width="11.4" height="35" fill="url(#colg)" stroke="#666" stroke-width="0.8" rx="0" />
<rect x="190" y="298" width="14" height="4.5" fill="#fff"/>
<path d="M274.4,300 H285.6 V334.6 Q285.6,336.2 284,336.2 H276 Q274.4,336.2 274.4,334.6 Z" fill="url(#colg)" stroke="#666" stroke-width="0.8"/>
<rect x="273" y="298" width="14" height="4.5" fill="#fff"/>
<rect x="202.8" y="305" width="71.59999999999997" height="5.2" fill="url(#railg)" stroke="none" stroke-width="0.8" rx="0" />
<line x1="202.8" y1="305.15" x2="274.4" y2="305.15" stroke="#727272" stroke-width="0.9" />
<line x1="202.8" y1="309.75" x2="274.4" y2="309.75" stroke="#959595" stroke-width="1.0" />
<rect x="202.8" y="314.2" width="71.59999999999997" height="5.2" fill="url(#railg)" stroke="none" stroke-width="0.8" rx="0" />
<line x1="202.8" y1="314.34999999999997" x2="274.4" y2="314.34999999999997" stroke="#727272" stroke-width="0.9" />
<line x1="202.8" y1="318.95" x2="274.4" y2="318.95" stroke="#959595" stroke-width="1.0" />
<rect x="202.8" y="323.6" width="71.59999999999997" height="5.2" fill="url(#railg)" stroke="none" stroke-width="0.8" rx="0" />
<line x1="202.8" y1="323.75" x2="274.4" y2="323.75" stroke="#727272" stroke-width="0.9" />
<line x1="202.8" y1="328.35" x2="274.4" y2="328.35" stroke="#959595" stroke-width="1.0" />
<line x1="206.70000000000002" y1="314" x2="213.9" y2="314" stroke="#444" stroke-width="1.2" />
<path d="M206.5,319.5 H214.3 L212.9,321 V324 H208.70000000000002 V321 Z" fill="#bbb" stroke="#444" stroke-width="0.7"/>
<line x1="262.9" y1="314" x2="270.1" y2="314" stroke="#444" stroke-width="1.2" />
<path d="M262.7,319.5 H270.5 L269.1,321 V324 H264.9 V321 Z" fill="#bbb" stroke="#444" stroke-width="0.7"/>
<line x1="180.8" y1="316.5" x2="180.8" y2="359.5" stroke="#555" stroke-width="0.8" />
<line x1="180.8" y1="335" x2="191.4" y2="335" stroke="#777" stroke-width="0.7" />
<line x1="180.8" y1="350.4" x2="195.1" y2="350.4" stroke="#777" stroke-width="0.7" />
<path transform="translate(180.80,335.00) rotate(90)" d="M0,0 L-6.00,-1.15 L-6.00,1.15 Z" fill="#1a1a1a"/>
<path transform="translate(180.80,350.40) rotate(-90)" d="M0,0 L-6.00,-1.15 L-6.00,1.15 Z" fill="#1a1a1a"/>
<text transform="translate(179.94,322.50) rotate(-90)" x="0" y="0" font-size="8.2" fill="#1a1a1a" stroke="#1a1a1a" stroke-width="0.22" text-anchor="middle" textLength="6" lengthAdjust="spacingAndGlyphs">81</text>
<rect x="195.1" y="334.8" width="6.1" height="3.2" fill="#ccc" stroke="#555" stroke-width="0.6" rx="0" />
<path d="M195.1,338 H213.4 A6.3,6.3 0 0 1 213.4,350.6 H195.1 Z" fill="#ececec" stroke="#555" stroke-width="0.8"/>
<circle cx="213.4" cy="344.3" r="4.3" fill="#fff" stroke="#777" stroke-width="0.8"/>
<circle cx="213.4" cy="344.3" r="2.3" fill="#fff" stroke="#444" stroke-width="0.9"/>
<path d="M186.6,337.8 Q186.2,344.6 194.8,345" fill="none" stroke="#8a8a8a" stroke-width="1.7"/>
<path d="M186.6,337.8 Q186.2,344.6 194.8,345" fill="none" stroke="#d8d8d8" stroke-width="0.6"/>
<clipPath id="wallC"><path d="M334.7,302.6 H349.6 V362.6 H371.3 Q372.5,365 371.3,367.5 Q370.5,369.5 371.3,371.5 H334.7 Z"/></clipPath>
<g clip-path="url(#wallC)" stroke="#7e7e7e" stroke-width="1.05">
<line x1="265.80" y1="371.5" x2="334.70" y2="302.6"/>
<line x1="270.60" y1="371.5" x2="339.50" y2="302.6"/>
<line x1="275.40" y1="371.5" x2="344.30" y2="302.6"/>
<line x1="280.20" y1="371.5" x2="349.10" y2="302.6"/>
<line x1="285.00" y1="371.5" x2="353.90" y2="302.6"/>
<line x1="289.80" y1="371.5" x2="358.70" y2="302.6"/>
<line x1="294.60" y1="371.5" x2="363.50" y2="302.6"/>
<line x1="299.40" y1="371.5" x2="368.30" y2="302.6"/>
<line x1="304.20" y1="371.5" x2="373.10" y2="302.6"/>
<line x1="309.00" y1="371.5" x2="377.90" y2="302.6"/>
<line x1="313.80" y1="371.5" x2="382.70" y2="302.6"/>
<line x1="318.60" y1="371.5" x2="387.50" y2="302.6"/>
<line x1="323.40" y1="371.5" x2="392.30" y2="302.6"/>
<line x1="328.20" y1="371.5" x2="397.10" y2="302.6"/>
<line x1="333.00" y1="371.5" x2="401.90" y2="302.6"/>
<line x1="337.80" y1="371.5" x2="406.70" y2="302.6"/>
<line x1="342.60" y1="371.5" x2="411.50" y2="302.6"/>
<line x1="347.40" y1="371.5" x2="416.30" y2="302.6"/>
<line x1="352.20" y1="371.5" x2="421.10" y2="302.6"/>
<line x1="357.00" y1="371.5" x2="425.90" y2="302.6"/>
<line x1="361.80" y1="371.5" x2="430.70" y2="302.6"/>
<line x1="366.60" y1="371.5" x2="435.50" y2="302.6"/>
<line x1="371.40" y1="371.5" x2="440.30" y2="302.6"/>
<line x1="376.20" y1="371.5" x2="445.10" y2="302.6"/>
</g>
<line x1="349.6" y1="302.6" x2="349.6" y2="362.6" stroke="#777" stroke-width="0.95" />
<line x1="349.6" y1="362.6" x2="371.3" y2="362.6" stroke="#555" stroke-width="0.9" />
<rect x="359.9" y="300" width="9.1" height="35.7" fill="url(#colg)" stroke="#666" stroke-width="0.8" rx="0" />
<rect x="355" y="298" width="22" height="4.6" fill="#fff"/>
<path d="M369,305.80 H372.3 A2.3,2.45 0 0 1 372.3,310.70 H369" fill="#f2f2f2" stroke="#666" stroke-width="0.75"/>
<path d="M369,315.10 H372.3 A2.3,2.45 0 0 1 372.3,320.00 H369" fill="#f2f2f2" stroke="#666" stroke-width="0.75"/>
<path d="M369,325.00 H372.3 A2.3,2.45 0 0 1 372.3,329.90 H369" fill="#f2f2f2" stroke="#666" stroke-width="0.75"/>
<line x1="349.6" y1="319.5" x2="359.9" y2="319.5" stroke="#333" stroke-width="0.9" />
<path d="M355.3,315 H359.9 V319.5 H355.3 Z" fill="#ddd" stroke="#666" stroke-width="0.6"/>
<rect x="349.6" y="319.5" width="1.8" height="5" fill="#333" stroke="none" stroke-width="0.8" rx="0" />
<rect x="360.5" y="335.7" width="8" height="3" fill="#ccc" stroke="#555" stroke-width="0.6" rx="0" />
<rect x="360" y="339" width="9" height="12.7" rx="1" fill="#e8e8e8" stroke="#555" stroke-width="0.7"/>
<line x1="364.5" y1="339.5" x2="364.5" y2="351.3" stroke="#999" stroke-width="0.6" />
<line x1="365.7" y1="339.5" x2="365.7" y2="351.3" stroke="#999" stroke-width="0.6" />
<line x1="366.9" y1="339.5" x2="366.9" y2="351.3" stroke="#999" stroke-width="0.6" />
<line x1="368" y1="339.5" x2="368" y2="351.3" stroke="#999" stroke-width="0.6" />
<line x1="359" y1="343.5" x2="359" y2="347.5" stroke="#777" stroke-width="1" />
<rect x="421" y="300" width="10.3" height="34.9" fill="url(#colg)" stroke="#666" stroke-width="0.8" rx="1.2" />
<rect x="503.3" y="300" width="10.3" height="34.9" fill="url(#colg)" stroke="#666" stroke-width="0.8" rx="1.2" />
<rect x="419" y="298" width="97" height="4.8" fill="#fff"/>
<rect x="431.3" y="304.9" width="72.0" height="5.2" fill="url(#railg)" stroke="none" stroke-width="0.8" rx="0" />
<line x1="431.3" y1="305.04999999999995" x2="503.3" y2="305.04999999999995" stroke="#727272" stroke-width="0.9" />
<line x1="431.3" y1="309.65" x2="503.3" y2="309.65" stroke="#959595" stroke-width="1.0" />
<rect x="431.3" y="314.3" width="72.0" height="5.2" fill="url(#railg)" stroke="none" stroke-width="0.8" rx="0" />
<line x1="431.3" y1="314.45" x2="503.3" y2="314.45" stroke="#727272" stroke-width="0.9" />
<line x1="431.3" y1="319.05" x2="503.3" y2="319.05" stroke="#959595" stroke-width="1.0" />
<rect x="431.3" y="323.8" width="72.0" height="5.2" fill="url(#railg)" stroke="none" stroke-width="0.8" rx="0" />
<line x1="431.3" y1="323.95" x2="503.3" y2="323.95" stroke="#727272" stroke-width="0.9" />
<line x1="431.3" y1="328.55" x2="503.3" y2="328.55" stroke="#959595" stroke-width="1.0" />
<rect x="435.8" y="313.6" width="7.8" height="5" rx="1.4" fill="#ddd" stroke="#555" stroke-width="0.7"/>
<rect x="437.0" y="319.6" width="5.4" height="6" rx="0.8" fill="#eee" stroke="#555" stroke-width="0.7"/>
<rect x="492.2" y="313.6" width="7.8" height="5" rx="1.4" fill="#ddd" stroke="#555" stroke-width="0.7"/>
<rect x="493.4" y="319.6" width="5.4" height="6" rx="0.8" fill="#eee" stroke="#555" stroke-width="0.7"/>
<rect x="505" y="334.9" width="6" height="2.9" fill="#ccc" stroke="#555" stroke-width="0.6" rx="0" />
<path d="M511,337.8 H492.8 A6.65,6.65 0 0 0 492.8,351.1 H511 Z" fill="#ececec" stroke="#555" stroke-width="0.8"/>
<rect x="493.5" y="342.6" width="9.8" height="4.3" fill="#fff" stroke="#444" stroke-width="0.8"/>
<rect x="495" y="343.4" width="3" height="2.7" fill="#888" stroke="none" stroke-width="0.8" rx="0" />
<path d="M503.3,344.8 H511 Q517.2,344.8 518.4,337.2" fill="none" stroke="#6e6e6e" stroke-width="1.25"/>
<clipPath id="floorD"><path d="M420,362.6 H524.7 Q525.9,365.5 524.8,367.5 Q523.8,369.5 524.9,372 H419.5 Q418.3,369.5 419.3,367.3 Q420.4,365 420,362.6 Z"/></clipPath>
<g clip-path="url(#floorD)" stroke="#7e7e7e" stroke-width="1.05">
<line x1="408.60" y1="372" x2="418.00" y2="362.6"/>
<line x1="413.40" y1="372" x2="422.80" y2="362.6"/>
<line x1="418.20" y1="372" x2="427.60" y2="362.6"/>
<line x1="423.00" y1="372" x2="432.40" y2="362.6"/>
<line x1="427.80" y1="372" x2="437.20" y2="362.6"/>
<line x1="432.60" y1="372" x2="442.00" y2="362.6"/>
<line x1="437.40" y1="372" x2="446.80" y2="362.6"/>
<line x1="442.20" y1="372" x2="451.60" y2="362.6"/>
<line x1="447.00" y1="372" x2="456.40" y2="362.6"/>
<line x1="451.80" y1="372" x2="461.20" y2="362.6"/>
<line x1="456.60" y1="372" x2="466.00" y2="362.6"/>
<line x1="461.40" y1="372" x2="470.80" y2="362.6"/>
<line x1="466.20" y1="372" x2="475.60" y2="362.6"/>
<line x1="471.00" y1="372" x2="480.40" y2="362.6"/>
<line x1="475.80" y1="372" x2="485.20" y2="362.6"/>
<line x1="480.60" y1="372" x2="490.00" y2="362.6"/>
<line x1="485.40" y1="372" x2="494.80" y2="362.6"/>
<line x1="490.20" y1="372" x2="499.60" y2="362.6"/>
<line x1="495.00" y1="372" x2="504.40" y2="362.6"/>
<line x1="499.80" y1="372" x2="509.20" y2="362.6"/>
<line x1="504.60" y1="372" x2="514.00" y2="362.6"/>
<line x1="509.40" y1="372" x2="518.80" y2="362.6"/>
<line x1="514.20" y1="372" x2="523.60" y2="362.6"/>
<line x1="519.00" y1="372" x2="528.40" y2="362.6"/>
<line x1="523.80" y1="372" x2="533.20" y2="362.6"/>
<line x1="528.60" y1="372" x2="538.00" y2="362.6"/>
</g>
<path d="M524.7,362.6 Q525.9,365.5 524.8,367.5 Q523.8,369.5 524.9,372" fill="none" stroke="#8a8a8a" stroke-width="0.7"/>
<path d="M420,362.6 Q420.4,365 419.3,367.3 Q418.3,369.5 419.5,372" fill="none" stroke="#8a8a8a" stroke-width="0.7"/>
<line x1="419.3" y1="362.6" x2="524.7" y2="362.6" stroke="#555" stroke-width="0.9" />
<text x="157.1" y="385.7" font-size="7.1" fill="#999" font-weight="normal" text-anchor="start" textLength="315.2" lengthAdjust="spacingAndGlyphs" >Nach optischen Gesichtspunkten sollte die Heizkörperposition der individuellen Raumsituation angepasst werden.</text>
<line x1="158" y1="391.5" x2="667" y2="391.5" stroke="#555" stroke-width="1" />
<rect x="158" y="399.1" width="378" height="2.0" fill="#84a94c" stroke="none" stroke-width="0.8" rx="0" />
<text x="161.3" y="411.8" font-size="9.2" fill="#222" font-weight="bold" text-anchor="start" textLength="98.5" lengthAdjust="spacingAndGlyphs" stroke="#222" stroke-width="0.2">Technische Informationen</text>
<rect x="158" y="417.1" width="378" height="23.7" fill="#ebebeb" stroke="none" stroke-width="0.8" rx="0" />
<line x1="158" y1="417.5" x2="536" y2="417.5" stroke="#d3dac7" stroke-width="0.9" />
<text x="181.62" y="427" font-size="7.5" fill="#1e1e1e" font-weight="bold" text-anchor="middle" textLength="8.2" lengthAdjust="spacingAndGlyphs" stroke="#1e1e1e" stroke-width="0.15">BH</text>
<text x="181.62" y="437" font-size="7.5" fill="#1e1e1e" font-weight="bold" text-anchor="middle" textLength="11.4" lengthAdjust="spacingAndGlyphs" stroke="#1e1e1e" stroke-width="0.15">mm</text>
<text x="228.88" y="427" font-size="7.5" fill="#1e1e1e" font-weight="bold" text-anchor="middle" textLength="7.6" lengthAdjust="spacingAndGlyphs" stroke="#1e1e1e" stroke-width="0.15">BL</text>
<text x="228.88" y="437" font-size="7.5" fill="#1e1e1e" font-weight="bold" text-anchor="middle" textLength="11.4" lengthAdjust="spacingAndGlyphs" stroke="#1e1e1e" stroke-width="0.15">mm</text>
<text x="276.12" y="427" font-size="7.5" fill="#1e1e1e" font-weight="bold" text-anchor="middle" textLength="8.3" lengthAdjust="spacingAndGlyphs" stroke="#1e1e1e" stroke-width="0.15">BT</text>
<text x="276.12" y="437" font-size="7.5" fill="#1e1e1e" font-weight="bold" text-anchor="middle" textLength="11.4" lengthAdjust="spacingAndGlyphs" stroke="#1e1e1e" stroke-width="0.15">mm</text>
<text x="323.38" y="427" font-size="7.5" fill="#1e1e1e" font-weight="bold" text-anchor="middle" textLength="4.2" lengthAdjust="spacingAndGlyphs" stroke="#1e1e1e" stroke-width="0.15">H</text>
<text x="323.38" y="437" font-size="7.5" fill="#1e1e1e" font-weight="bold" text-anchor="middle" textLength="11.4" lengthAdjust="spacingAndGlyphs" stroke="#1e1e1e" stroke-width="0.15">mm</text>
<text x="370.62" y="427" font-size="7.5" fill="#1e1e1e" font-weight="bold" text-anchor="middle" textLength="3.8" lengthAdjust="spacingAndGlyphs" stroke="#1e1e1e" stroke-width="0.15">L</text>
<text x="370.62" y="437" font-size="7.5" fill="#1e1e1e" font-weight="bold" text-anchor="middle" textLength="11.4" lengthAdjust="spacingAndGlyphs" stroke="#1e1e1e" stroke-width="0.15">mm</text>
<text x="417.88" y="427" font-size="7.5" fill="#1e1e1e" font-weight="bold" text-anchor="middle" textLength="8.3" lengthAdjust="spacingAndGlyphs" stroke="#1e1e1e" stroke-width="0.15">H1</text>
<text x="417.88" y="437" font-size="7.5" fill="#1e1e1e" font-weight="bold" text-anchor="middle" textLength="11.4" lengthAdjust="spacingAndGlyphs" stroke="#1e1e1e" stroke-width="0.15">mm</text>
<text x="465.12" y="427" font-size="7.5" fill="#1e1e1e" font-weight="bold" text-anchor="middle" textLength="8.8" lengthAdjust="spacingAndGlyphs" stroke="#1e1e1e" stroke-width="0.15">H2</text>
<text x="465.12" y="437" font-size="7.5" fill="#1e1e1e" font-weight="bold" text-anchor="middle" textLength="11.4" lengthAdjust="spacingAndGlyphs" stroke="#1e1e1e" stroke-width="0.15">mm</text>
<text x="512.38" y="427" font-size="7.5" fill="#1e1e1e" font-weight="bold" text-anchor="middle" textLength="25.2" lengthAdjust="spacingAndGlyphs" stroke="#1e1e1e" stroke-width="0.15">Gewicht</text>
<text x="512.38" y="437" font-size="7.5" fill="#1e1e1e" font-weight="bold" text-anchor="middle" textLength="8.6" lengthAdjust="spacingAndGlyphs" stroke="#1e1e1e" stroke-width="0.15">kg</text>
<text x="181.62" y="450.10" font-size="8.2" fill="#2e2e2e" font-weight="normal" text-anchor="middle" textLength="11.4" lengthAdjust="spacingAndGlyphs" stroke="#2e2e2e" stroke-width="0.12">804</text>
<text x="228.88" y="450.10" font-size="8.2" fill="#2e2e2e" font-weight="normal" text-anchor="middle" textLength="11.4" lengthAdjust="spacingAndGlyphs" stroke="#2e2e2e" stroke-width="0.12">450</text>
<text x="276.12" y="450.10" font-size="8.2" fill="#2e2e2e" font-weight="normal" text-anchor="middle" textLength="7.6" lengthAdjust="spacingAndGlyphs" stroke="#2e2e2e" stroke-width="0.12">51</text>
<text x="323.38" y="450.10" font-size="8.2" fill="#2e2e2e" font-weight="normal" text-anchor="middle" textLength="11.4" lengthAdjust="spacingAndGlyphs" stroke="#2e2e2e" stroke-width="0.12">734</text>
<text x="370.62" y="450.10" font-size="8.2" fill="#2e2e2e" font-weight="normal" text-anchor="middle" textLength="11.4" lengthAdjust="spacingAndGlyphs" stroke="#2e2e2e" stroke-width="0.12">389</text>
<text x="417.88" y="450.10" font-size="8.2" fill="#2e2e2e" font-weight="normal" text-anchor="middle" textLength="11.4" lengthAdjust="spacingAndGlyphs" stroke="#2e2e2e" stroke-width="0.12">300</text>
<text x="465.12" y="450.10" font-size="8.2" fill="#2e2e2e" font-weight="normal" text-anchor="middle" textLength="11.4" lengthAdjust="spacingAndGlyphs" stroke="#2e2e2e" stroke-width="0.12">162</text>
<text x="512.38" y="450.10" font-size="8.2" fill="#2e2e2e" font-weight="normal" text-anchor="middle" textLength="16.4" lengthAdjust="spacingAndGlyphs" stroke="#2e2e2e" stroke-width="0.12">11,60</text>
<rect x="160.25" y="453.15" width="42.75" height="12.35" fill="#f0f4e5" stroke="none" stroke-width="0.8" rx="0" />
<line x1="160.25" y1="453.55" x2="203.00" y2="453.55" stroke="#d9e2c6" stroke-width="0.8" />
<line x1="160.25" y1="465.10" x2="203.00" y2="465.10" stroke="#d9e2c6" stroke-width="0.8" />
<rect x="207.50" y="453.15" width="42.75" height="12.35" fill="#f0f4e5" stroke="none" stroke-width="0.8" rx="0" />
<line x1="207.50" y1="453.55" x2="250.25" y2="453.55" stroke="#d9e2c6" stroke-width="0.8" />
<line x1="207.50" y1="465.10" x2="250.25" y2="465.10" stroke="#d9e2c6" stroke-width="0.8" />
<rect x="254.75" y="453.15" width="42.75" height="12.35" fill="#f0f4e5" stroke="none" stroke-width="0.8" rx="0" />
<line x1="254.75" y1="453.55" x2="297.50" y2="453.55" stroke="#d9e2c6" stroke-width="0.8" />
<line x1="254.75" y1="465.10" x2="297.50" y2="465.10" stroke="#d9e2c6" stroke-width="0.8" />
<rect x="302.00" y="453.15" width="42.75" height="12.35" fill="#f0f4e5" stroke="none" stroke-width="0.8" rx="0" />
<line x1="302.00" y1="453.55" x2="344.75" y2="453.55" stroke="#d9e2c6" stroke-width="0.8" />
<line x1="302.00" y1="465.10" x2="344.75" y2="465.10" stroke="#d9e2c6" stroke-width="0.8" />
<rect x="349.25" y="453.15" width="42.75" height="12.35" fill="#f0f4e5" stroke="none" stroke-width="0.8" rx="0" />
<line x1="349.25" y1="453.55" x2="392.00" y2="453.55" stroke="#d9e2c6" stroke-width="0.8" />
<line x1="349.25" y1="465.10" x2="392.00" y2="465.10" stroke="#d9e2c6" stroke-width="0.8" />
<rect x="396.50" y="453.15" width="42.75" height="12.35" fill="#f0f4e5" stroke="none" stroke-width="0.8" rx="0" />
<line x1="396.50" y1="453.55" x2="439.25" y2="453.55" stroke="#d9e2c6" stroke-width="0.8" />
<line x1="396.50" y1="465.10" x2="439.25" y2="465.10" stroke="#d9e2c6" stroke-width="0.8" />
<rect x="443.75" y="453.15" width="42.75" height="12.35" fill="#f0f4e5" stroke="none" stroke-width="0.8" rx="0" />
<line x1="443.75" y1="453.55" x2="486.50" y2="453.55" stroke="#d9e2c6" stroke-width="0.8" />
<line x1="443.75" y1="465.10" x2="486.50" y2="465.10" stroke="#d9e2c6" stroke-width="0.8" />
<rect x="491.00" y="453.15" width="42.75" height="12.35" fill="#f0f4e5" stroke="none" stroke-width="0.8" rx="0" />
<line x1="491.00" y1="453.55" x2="533.75" y2="453.55" stroke="#d9e2c6" stroke-width="0.8" />
<line x1="491.00" y1="465.10" x2="533.75" y2="465.10" stroke="#d9e2c6" stroke-width="0.8" />
<text x="181.62" y="462.45" font-size="8.2" fill="#2e2e2e" font-weight="normal" text-anchor="middle" textLength="11.4" lengthAdjust="spacingAndGlyphs" stroke="#2e2e2e" stroke-width="0.12">804</text>
<text x="228.88" y="462.45" font-size="8.2" fill="#2e2e2e" font-weight="normal" text-anchor="middle" textLength="11.4" lengthAdjust="spacingAndGlyphs" stroke="#2e2e2e" stroke-width="0.12">524</text>
<text x="276.12" y="462.45" font-size="8.2" fill="#2e2e2e" font-weight="normal" text-anchor="middle" textLength="7.6" lengthAdjust="spacingAndGlyphs" stroke="#2e2e2e" stroke-width="0.12">64</text>
<text x="323.38" y="462.45" font-size="8.2" fill="#2e2e2e" font-weight="normal" text-anchor="middle" textLength="11.4" lengthAdjust="spacingAndGlyphs" stroke="#2e2e2e" stroke-width="0.12">734</text>
<text x="370.62" y="462.45" font-size="8.2" fill="#2e2e2e" font-weight="normal" text-anchor="middle" textLength="11.4" lengthAdjust="spacingAndGlyphs" stroke="#2e2e2e" stroke-width="0.12">463</text>
<text x="417.88" y="462.45" font-size="8.2" fill="#2e2e2e" font-weight="normal" text-anchor="middle" textLength="11.4" lengthAdjust="spacingAndGlyphs" stroke="#2e2e2e" stroke-width="0.12">300</text>
<text x="465.12" y="462.45" font-size="8.2" fill="#2e2e2e" font-weight="normal" text-anchor="middle" textLength="11.4" lengthAdjust="spacingAndGlyphs" stroke="#2e2e2e" stroke-width="0.12">162</text>
<text x="512.38" y="462.45" font-size="8.2" fill="#2e2e2e" font-weight="normal" text-anchor="middle" textLength="16.4" lengthAdjust="spacingAndGlyphs" stroke="#2e2e2e" stroke-width="0.12">12,60</text>
<text x="181.62" y="474.80" font-size="8.2" fill="#2e2e2e" font-weight="normal" text-anchor="middle" textLength="11.4" lengthAdjust="spacingAndGlyphs" stroke="#2e2e2e" stroke-width="0.12">804</text>
<text x="228.88" y="474.80" font-size="8.2" fill="#2e2e2e" font-weight="normal" text-anchor="middle" textLength="11.4" lengthAdjust="spacingAndGlyphs" stroke="#2e2e2e" stroke-width="0.12">599</text>
<text x="276.12" y="474.80" font-size="8.2" fill="#2e2e2e" font-weight="normal" text-anchor="middle" textLength="7.6" lengthAdjust="spacingAndGlyphs" stroke="#2e2e2e" stroke-width="0.12">60</text>
<text x="323.38" y="474.80" font-size="8.2" fill="#2e2e2e" font-weight="normal" text-anchor="middle" textLength="11.4" lengthAdjust="spacingAndGlyphs" stroke="#2e2e2e" stroke-width="0.12">734</text>
<text x="370.62" y="474.80" font-size="8.2" fill="#2e2e2e" font-weight="normal" text-anchor="middle" textLength="11.4" lengthAdjust="spacingAndGlyphs" stroke="#2e2e2e" stroke-width="0.12">538</text>
<text x="417.88" y="474.80" font-size="8.2" fill="#2e2e2e" font-weight="normal" text-anchor="middle" textLength="11.4" lengthAdjust="spacingAndGlyphs" stroke="#2e2e2e" stroke-width="0.12">300</text>
<text x="465.12" y="474.80" font-size="8.2" fill="#2e2e2e" font-weight="normal" text-anchor="middle" textLength="11.4" lengthAdjust="spacingAndGlyphs" stroke="#2e2e2e" stroke-width="0.12">162</text>
<text x="512.38" y="474.80" font-size="8.2" fill="#2e2e2e" font-weight="normal" text-anchor="middle" textLength="16.4" lengthAdjust="spacingAndGlyphs" stroke="#2e2e2e" stroke-width="0.12">13,60</text>
<rect x="160.25" y="477.85" width="42.75" height="12.35" fill="#f0f4e5" stroke="none" stroke-width="0.8" rx="0" />
<line x1="160.25" y1="478.25" x2="203.00" y2="478.25" stroke="#d9e2c6" stroke-width="0.8" />
<line x1="160.25" y1="489.80" x2="203.00" y2="489.80" stroke="#d9e2c6" stroke-width="0.8" />
<rect x="207.50" y="477.85" width="42.75" height="12.35" fill="#f0f4e5" stroke="none" stroke-width="0.8" rx="0" />
<line x1="207.50" y1="478.25" x2="250.25" y2="478.25" stroke="#d9e2c6" stroke-width="0.8" />
<line x1="207.50" y1="489.80" x2="250.25" y2="489.80" stroke="#d9e2c6" stroke-width="0.8" />
<rect x="254.75" y="477.85" width="42.75" height="12.35" fill="#f0f4e5" stroke="none" stroke-width="0.8" rx="0" />
<line x1="254.75" y1="478.25" x2="297.50" y2="478.25" stroke="#d9e2c6" stroke-width="0.8" />
<line x1="254.75" y1="489.80" x2="297.50" y2="489.80" stroke="#d9e2c6" stroke-width="0.8" />
<rect x="302.00" y="477.85" width="42.75" height="12.35" fill="#f0f4e5" stroke="none" stroke-width="0.8" rx="0" />
<line x1="302.00" y1="478.25" x2="344.75" y2="478.25" stroke="#d9e2c6" stroke-width="0.8" />
<line x1="302.00" y1="489.80" x2="344.75" y2="489.80" stroke="#d9e2c6" stroke-width="0.8" />
<rect x="349.25" y="477.85" width="42.75" height="12.35" fill="#f0f4e5" stroke="none" stroke-width="0.8" rx="0" />
<line x1="349.25" y1="478.25" x2="392.00" y2="478.25" stroke="#d9e2c6" stroke-width="0.8" />
<line x1="349.25" y1="489.80" x2="392.00" y2="489.80" stroke="#d9e2c6" stroke-width="0.8" />
<rect x="396.50" y="477.85" width="42.75" height="12.35" fill="#f0f4e5" stroke="none" stroke-width="0.8" rx="0" />
<line x1="396.50" y1="478.25" x2="439.25" y2="478.25" stroke="#d9e2c6" stroke-width="0.8" />
<line x1="396.50" y1="489.80" x2="439.25" y2="489.80" stroke="#d9e2c6" stroke-width="0.8" />
<rect x="443.75" y="477.85" width="42.75" height="12.35" fill="#f0f4e5" stroke="none" stroke-width="0.8" rx="0" />
<line x1="443.75" y1="478.25" x2="486.50" y2="478.25" stroke="#d9e2c6" stroke-width="0.8" />
<line x1="443.75" y1="489.80" x2="486.50" y2="489.80" stroke="#d9e2c6" stroke-width="0.8" />
<rect x="491.00" y="477.85" width="42.75" height="12.35" fill="#f0f4e5" stroke="none" stroke-width="0.8" rx="0" />
<line x1="491.00" y1="478.25" x2="533.75" y2="478.25" stroke="#d9e2c6" stroke-width="0.8" />
<line x1="491.00" y1="489.80" x2="533.75" y2="489.80" stroke="#d9e2c6" stroke-width="0.8" />
<text x="181.62" y="487.15" font-size="8.2" fill="#2e2e2e" font-weight="normal" text-anchor="middle" textLength="11.4" lengthAdjust="spacingAndGlyphs" stroke="#2e2e2e" stroke-width="0.12">804</text>
<text x="228.88" y="487.15" font-size="8.2" fill="#2e2e2e" font-weight="normal" text-anchor="middle" textLength="11.4" lengthAdjust="spacingAndGlyphs" stroke="#2e2e2e" stroke-width="0.12">749</text>
<text x="276.12" y="487.15" font-size="8.2" fill="#2e2e2e" font-weight="normal" text-anchor="middle" textLength="7.6" lengthAdjust="spacingAndGlyphs" stroke="#2e2e2e" stroke-width="0.12">70</text>
<text x="323.38" y="487.15" font-size="8.2" fill="#2e2e2e" font-weight="normal" text-anchor="middle" textLength="11.4" lengthAdjust="spacingAndGlyphs" stroke="#2e2e2e" stroke-width="0.12">734</text>
<text x="370.62" y="487.15" font-size="8.2" fill="#2e2e2e" font-weight="normal" text-anchor="middle" textLength="11.4" lengthAdjust="spacingAndGlyphs" stroke="#2e2e2e" stroke-width="0.12">688</text>
<text x="417.88" y="487.15" font-size="8.2" fill="#2e2e2e" font-weight="normal" text-anchor="middle" textLength="11.4" lengthAdjust="spacingAndGlyphs" stroke="#2e2e2e" stroke-width="0.12">300</text>
<text x="465.12" y="487.15" font-size="8.2" fill="#2e2e2e" font-weight="normal" text-anchor="middle" textLength="11.4" lengthAdjust="spacingAndGlyphs" stroke="#2e2e2e" stroke-width="0.12">162</text>
<text x="512.38" y="487.15" font-size="8.2" fill="#2e2e2e" font-weight="normal" text-anchor="middle" textLength="16.4" lengthAdjust="spacingAndGlyphs" stroke="#2e2e2e" stroke-width="0.12">15,80</text>
<text x="181.62" y="499.50" font-size="8.2" fill="#2e2e2e" font-weight="normal" text-anchor="middle" textLength="11.4" lengthAdjust="spacingAndGlyphs" stroke="#2e2e2e" stroke-width="0.12">804</text>
<text x="228.88" y="499.50" font-size="8.2" fill="#2e2e2e" font-weight="normal" text-anchor="middle" textLength="11.4" lengthAdjust="spacingAndGlyphs" stroke="#2e2e2e" stroke-width="0.12">899</text>
<text x="276.12" y="499.50" font-size="8.2" fill="#2e2e2e" font-weight="normal" text-anchor="middle" textLength="7.6" lengthAdjust="spacingAndGlyphs" stroke="#2e2e2e" stroke-width="0.12">73</text>
<text x="323.38" y="499.50" font-size="8.2" fill="#2e2e2e" font-weight="normal" text-anchor="middle" textLength="11.4" lengthAdjust="spacingAndGlyphs" stroke="#2e2e2e" stroke-width="0.12">734</text>
<text x="370.62" y="499.50" font-size="8.2" fill="#2e2e2e" font-weight="normal" text-anchor="middle" textLength="11.4" lengthAdjust="spacingAndGlyphs" stroke="#2e2e2e" stroke-width="0.12">838</text>
<text x="417.88" y="499.50" font-size="8.2" fill="#2e2e2e" font-weight="normal" text-anchor="middle" textLength="11.4" lengthAdjust="spacingAndGlyphs" stroke="#2e2e2e" stroke-width="0.12">300</text>
<text x="465.12" y="499.50" font-size="8.2" fill="#2e2e2e" font-weight="normal" text-anchor="middle" textLength="11.4" lengthAdjust="spacingAndGlyphs" stroke="#2e2e2e" stroke-width="0.12">162</text>
<text x="512.38" y="499.50" font-size="8.2" fill="#2e2e2e" font-weight="normal" text-anchor="middle" textLength="16.4" lengthAdjust="spacingAndGlyphs" stroke="#2e2e2e" stroke-width="0.12">18,00</text>
<rect x="160.25" y="502.55" width="42.75" height="12.35" fill="#f0f4e5" stroke="none" stroke-width="0.8" rx="0" />
<line x1="160.25" y1="502.95" x2="203.00" y2="502.95" stroke="#d9e2c6" stroke-width="0.8" />
<line x1="160.25" y1="514.50" x2="203.00" y2="514.50" stroke="#d9e2c6" stroke-width="0.8" />
<rect x="207.50" y="502.55" width="42.75" height="12.35" fill="#f0f4e5" stroke="none" stroke-width="0.8" rx="0" />
<line x1="207.50" y1="502.95" x2="250.25" y2="502.95" stroke="#d9e2c6" stroke-width="0.8" />
<line x1="207.50" y1="514.50" x2="250.25" y2="514.50" stroke="#d9e2c6" stroke-width="0.8" />
<rect x="254.75" y="502.55" width="42.75" height="12.35" fill="#f0f4e5" stroke="none" stroke-width="0.8" rx="0" />
<line x1="254.75" y1="502.95" x2="297.50" y2="502.95" stroke="#d9e2c6" stroke-width="0.8" />
<line x1="254.75" y1="514.50" x2="297.50" y2="514.50" stroke="#d9e2c6" stroke-width="0.8" />
<rect x="302.00" y="502.55" width="42.75" height="12.35" fill="#f0f4e5" stroke="none" stroke-width="0.8" rx="0" />
<line x1="302.00" y1="502.95" x2="344.75" y2="502.95" stroke="#d9e2c6" stroke-width="0.8" />
<line x1="302.00" y1="514.50" x2="344.75" y2="514.50" stroke="#d9e2c6" stroke-width="0.8" />
<rect x="349.25" y="502.55" width="42.75" height="12.35" fill="#f0f4e5" stroke="none" stroke-width="0.8" rx="0" />
<line x1="349.25" y1="502.95" x2="392.00" y2="502.95" stroke="#d9e2c6" stroke-width="0.8" />
<line x1="349.25" y1="514.50" x2="392.00" y2="514.50" stroke="#d9e2c6" stroke-width="0.8" />
<rect x="396.50" y="502.55" width="42.75" height="12.35" fill="#f0f4e5" stroke="none" stroke-width="0.8" rx="0" />
<line x1="396.50" y1="502.95" x2="439.25" y2="502.95" stroke="#d9e2c6" stroke-width="0.8" />
<line x1="396.50" y1="514.50" x2="439.25" y2="514.50" stroke="#d9e2c6" stroke-width="0.8" />
<rect x="443.75" y="502.55" width="42.75" height="12.35" fill="#f0f4e5" stroke="none" stroke-width="0.8" rx="0" />
<line x1="443.75" y1="502.95" x2="486.50" y2="502.95" stroke="#d9e2c6" stroke-width="0.8" />
<line x1="443.75" y1="514.50" x2="486.50" y2="514.50" stroke="#d9e2c6" stroke-width="0.8" />
<rect x="491.00" y="502.55" width="42.75" height="12.35" fill="#f0f4e5" stroke="none" stroke-width="0.8" rx="0" />
<line x1="491.00" y1="502.95" x2="533.75" y2="502.95" stroke="#d9e2c6" stroke-width="0.8" />
<line x1="491.00" y1="514.50" x2="533.75" y2="514.50" stroke="#d9e2c6" stroke-width="0.8" />
<text x="181.62" y="511.85" font-size="8.2" fill="#2e2e2e" font-weight="normal" text-anchor="middle" textLength="15.2" lengthAdjust="spacingAndGlyphs" stroke="#2e2e2e" stroke-width="0.12">1172</text>
<text x="228.88" y="511.85" font-size="8.2" fill="#2e2e2e" font-weight="normal" text-anchor="middle" textLength="11.4" lengthAdjust="spacingAndGlyphs" stroke="#2e2e2e" stroke-width="0.12">450</text>
<text x="276.12" y="511.85" font-size="8.2" fill="#2e2e2e" font-weight="normal" text-anchor="middle" textLength="7.6" lengthAdjust="spacingAndGlyphs" stroke="#2e2e2e" stroke-width="0.12">51</text>
<text x="323.38" y="511.85" font-size="8.2" fill="#2e2e2e" font-weight="normal" text-anchor="middle" textLength="15.2" lengthAdjust="spacingAndGlyphs" stroke="#2e2e2e" stroke-width="0.12">1102</text>
<text x="370.62" y="511.85" font-size="8.2" fill="#2e2e2e" font-weight="normal" text-anchor="middle" textLength="11.4" lengthAdjust="spacingAndGlyphs" stroke="#2e2e2e" stroke-width="0.12">389</text>
<text x="417.88" y="511.85" font-size="8.2" fill="#2e2e2e" font-weight="normal" text-anchor="middle" textLength="11.4" lengthAdjust="spacingAndGlyphs" stroke="#2e2e2e" stroke-width="0.12">300</text>
<text x="465.12" y="511.85" font-size="8.2" fill="#2e2e2e" font-weight="normal" text-anchor="middle" textLength="11.4" lengthAdjust="spacingAndGlyphs" stroke="#2e2e2e" stroke-width="0.12">208</text>
<text x="512.38" y="511.85" font-size="8.2" fill="#2e2e2e" font-weight="normal" text-anchor="middle" textLength="16.4" lengthAdjust="spacingAndGlyphs" stroke="#2e2e2e" stroke-width="0.12">16,80</text>
<text x="181.62" y="524.20" font-size="8.2" fill="#2e2e2e" font-weight="normal" text-anchor="middle" textLength="15.2" lengthAdjust="spacingAndGlyphs" stroke="#2e2e2e" stroke-width="0.12">1172</text>
<text x="228.88" y="524.20" font-size="8.2" fill="#2e2e2e" font-weight="normal" text-anchor="middle" textLength="11.4" lengthAdjust="spacingAndGlyphs" stroke="#2e2e2e" stroke-width="0.12">524</text>
<text x="276.12" y="524.20" font-size="8.2" fill="#2e2e2e" font-weight="normal" text-anchor="middle" textLength="7.6" lengthAdjust="spacingAndGlyphs" stroke="#2e2e2e" stroke-width="0.12">64</text>
<text x="323.38" y="524.20" font-size="8.2" fill="#2e2e2e" font-weight="normal" text-anchor="middle" textLength="15.2" lengthAdjust="spacingAndGlyphs" stroke="#2e2e2e" stroke-width="0.12">1102</text>
<text x="370.62" y="524.20" font-size="8.2" fill="#2e2e2e" font-weight="normal" text-anchor="middle" textLength="11.4" lengthAdjust="spacingAndGlyphs" stroke="#2e2e2e" stroke-width="0.12">463</text>
<text x="417.88" y="524.20" font-size="8.2" fill="#2e2e2e" font-weight="normal" text-anchor="middle" textLength="11.4" lengthAdjust="spacingAndGlyphs" stroke="#2e2e2e" stroke-width="0.12">300</text>
<text x="465.12" y="524.20" font-size="8.2" fill="#2e2e2e" font-weight="normal" text-anchor="middle" textLength="11.4" lengthAdjust="spacingAndGlyphs" stroke="#2e2e2e" stroke-width="0.12">208</text>
<text x="512.38" y="524.20" font-size="8.2" fill="#2e2e2e" font-weight="normal" text-anchor="middle" textLength="16.4" lengthAdjust="spacingAndGlyphs" stroke="#2e2e2e" stroke-width="0.12">17,90</text>
<rect x="160.25" y="527.25" width="42.75" height="12.35" fill="#f0f4e5" stroke="none" stroke-width="0.8" rx="0" />
<line x1="160.25" y1="527.65" x2="203.00" y2="527.65" stroke="#d9e2c6" stroke-width="0.8" />
<line x1="160.25" y1="539.20" x2="203.00" y2="539.20" stroke="#d9e2c6" stroke-width="0.8" />
<rect x="207.50" y="527.25" width="42.75" height="12.35" fill="#f0f4e5" stroke="none" stroke-width="0.8" rx="0" />
<line x1="207.50" y1="527.65" x2="250.25" y2="527.65" stroke="#d9e2c6" stroke-width="0.8" />
<line x1="207.50" y1="539.20" x2="250.25" y2="539.20" stroke="#d9e2c6" stroke-width="0.8" />
<rect x="254.75" y="527.25" width="42.75" height="12.35" fill="#f0f4e5" stroke="none" stroke-width="0.8" rx="0" />
<line x1="254.75" y1="527.65" x2="297.50" y2="527.65" stroke="#d9e2c6" stroke-width="0.8" />
<line x1="254.75" y1="539.20" x2="297.50" y2="539.20" stroke="#d9e2c6" stroke-width="0.8" />
<rect x="302.00" y="527.25" width="42.75" height="12.35" fill="#f0f4e5" stroke="none" stroke-width="0.8" rx="0" />
<line x1="302.00" y1="527.65" x2="344.75" y2="527.65" stroke="#d9e2c6" stroke-width="0.8" />
<line x1="302.00" y1="539.20" x2="344.75" y2="539.20" stroke="#d9e2c6" stroke-width="0.8" />
<rect x="349.25" y="527.25" width="42.75" height="12.35" fill="#f0f4e5" stroke="none" stroke-width="0.8" rx="0" />
<line x1="349.25" y1="527.65" x2="392.00" y2="527.65" stroke="#d9e2c6" stroke-width="0.8" />
<line x1="349.25" y1="539.20" x2="392.00" y2="539.20" stroke="#d9e2c6" stroke-width="0.8" />
<rect x="396.50" y="527.25" width="42.75" height="12.35" fill="#f0f4e5" stroke="none" stroke-width="0.8" rx="0" />
<line x1="396.50" y1="527.65" x2="439.25" y2="527.65" stroke="#d9e2c6" stroke-width="0.8" />
<line x1="396.50" y1="539.20" x2="439.25" y2="539.20" stroke="#d9e2c6" stroke-width="0.8" />
<rect x="443.75" y="527.25" width="42.75" height="12.35" fill="#f0f4e5" stroke="none" stroke-width="0.8" rx="0" />
<line x1="443.75" y1="527.65" x2="486.50" y2="527.65" stroke="#d9e2c6" stroke-width="0.8" />
<line x1="443.75" y1="539.20" x2="486.50" y2="539.20" stroke="#d9e2c6" stroke-width="0.8" />
<rect x="491.00" y="527.25" width="42.75" height="12.35" fill="#f0f4e5" stroke="none" stroke-width="0.8" rx="0" />
<line x1="491.00" y1="527.65" x2="533.75" y2="527.65" stroke="#d9e2c6" stroke-width="0.8" />
<line x1="491.00" y1="539.20" x2="533.75" y2="539.20" stroke="#d9e2c6" stroke-width="0.8" />
<text x="181.62" y="536.55" font-size="8.2" fill="#2e2e2e" font-weight="normal" text-anchor="middle" textLength="15.2" lengthAdjust="spacingAndGlyphs" stroke="#2e2e2e" stroke-width="0.12">1172</text>
<text x="228.88" y="536.55" font-size="8.2" fill="#2e2e2e" font-weight="normal" text-anchor="middle" textLength="11.4" lengthAdjust="spacingAndGlyphs" stroke="#2e2e2e" stroke-width="0.12">599</text>
<text x="276.12" y="536.55" font-size="8.2" fill="#2e2e2e" font-weight="normal" text-anchor="middle" textLength="7.6" lengthAdjust="spacingAndGlyphs" stroke="#2e2e2e" stroke-width="0.12">60</text>
<text x="323.38" y="536.55" font-size="8.2" fill="#2e2e2e" font-weight="normal" text-anchor="middle" textLength="15.2" lengthAdjust="spacingAndGlyphs" stroke="#2e2e2e" stroke-width="0.12">1102</text>
<text x="370.62" y="536.55" font-size="8.2" fill="#2e2e2e" font-weight="normal" text-anchor="middle" textLength="11.4" lengthAdjust="spacingAndGlyphs" stroke="#2e2e2e" stroke-width="0.12">538</text>
<text x="417.88" y="536.55" font-size="8.2" fill="#2e2e2e" font-weight="normal" text-anchor="middle" textLength="11.4" lengthAdjust="spacingAndGlyphs" stroke="#2e2e2e" stroke-width="0.12">300</text>
<text x="465.12" y="536.55" font-size="8.2" fill="#2e2e2e" font-weight="normal" text-anchor="middle" textLength="11.4" lengthAdjust="spacingAndGlyphs" stroke="#2e2e2e" stroke-width="0.12">208</text>
<text x="512.38" y="536.55" font-size="8.2" fill="#2e2e2e" font-weight="normal" text-anchor="middle" textLength="16.4" lengthAdjust="spacingAndGlyphs" stroke="#2e2e2e" stroke-width="0.12">20,10</text>
<text x="181.62" y="548.90" font-size="8.2" fill="#2e2e2e" font-weight="normal" text-anchor="middle" textLength="15.2" lengthAdjust="spacingAndGlyphs" stroke="#2e2e2e" stroke-width="0.12">1172</text>
<text x="228.88" y="548.90" font-size="8.2" fill="#2e2e2e" font-weight="normal" text-anchor="middle" textLength="11.4" lengthAdjust="spacingAndGlyphs" stroke="#2e2e2e" stroke-width="0.12">749</text>
<text x="276.12" y="548.90" font-size="8.2" fill="#2e2e2e" font-weight="normal" text-anchor="middle" textLength="7.6" lengthAdjust="spacingAndGlyphs" stroke="#2e2e2e" stroke-width="0.12">70</text>
<text x="323.38" y="548.90" font-size="8.2" fill="#2e2e2e" font-weight="normal" text-anchor="middle" textLength="15.2" lengthAdjust="spacingAndGlyphs" stroke="#2e2e2e" stroke-width="0.12">1102</text>
<text x="370.62" y="548.90" font-size="8.2" fill="#2e2e2e" font-weight="normal" text-anchor="middle" textLength="11.4" lengthAdjust="spacingAndGlyphs" stroke="#2e2e2e" stroke-width="0.12">688</text>
<text x="417.88" y="548.90" font-size="8.2" fill="#2e2e2e" font-weight="normal" text-anchor="middle" textLength="11.4" lengthAdjust="spacingAndGlyphs" stroke="#2e2e2e" stroke-width="0.12">300</text>
<text x="465.12" y="548.90" font-size="8.2" fill="#2e2e2e" font-weight="normal" text-anchor="middle" textLength="11.4" lengthAdjust="spacingAndGlyphs" stroke="#2e2e2e" stroke-width="0.12">208</text>
<text x="512.38" y="548.90" font-size="8.2" fill="#2e2e2e" font-weight="normal" text-anchor="middle" textLength="16.4" lengthAdjust="spacingAndGlyphs" stroke="#2e2e2e" stroke-width="0.12">23,30</text>
<rect x="160.25" y="551.95" width="42.75" height="12.35" fill="#f0f4e5" stroke="none" stroke-width="0.8" rx="0" />
<line x1="160.25" y1="552.35" x2="203.00" y2="552.35" stroke="#d9e2c6" stroke-width="0.8" />
<line x1="160.25" y1="563.90" x2="203.00" y2="563.90" stroke="#d9e2c6" stroke-width="0.8" />
<rect x="207.50" y="551.95" width="42.75" height="12.35" fill="#f0f4e5" stroke="none" stroke-width="0.8" rx="0" />
<line x1="207.50" y1="552.35" x2="250.25" y2="552.35" stroke="#d9e2c6" stroke-width="0.8" />
<line x1="207.50" y1="563.90" x2="250.25" y2="563.90" stroke="#d9e2c6" stroke-width="0.8" />
<rect x="254.75" y="551.95" width="42.75" height="12.35" fill="#f0f4e5" stroke="none" stroke-width="0.8" rx="0" />
<line x1="254.75" y1="552.35" x2="297.50" y2="552.35" stroke="#d9e2c6" stroke-width="0.8" />
<line x1="254.75" y1="563.90" x2="297.50" y2="563.90" stroke="#d9e2c6" stroke-width="0.8" />
<rect x="302.00" y="551.95" width="42.75" height="12.35" fill="#f0f4e5" stroke="none" stroke-width="0.8" rx="0" />
<line x1="302.00" y1="552.35" x2="344.75" y2="552.35" stroke="#d9e2c6" stroke-width="0.8" />
<line x1="302.00" y1="563.90" x2="344.75" y2="563.90" stroke="#d9e2c6" stroke-width="0.8" />
<rect x="349.25" y="551.95" width="42.75" height="12.35" fill="#f0f4e5" stroke="none" stroke-width="0.8" rx="0" />
<line x1="349.25" y1="552.35" x2="392.00" y2="552.35" stroke="#d9e2c6" stroke-width="0.8" />
<line x1="349.25" y1="563.90" x2="392.00" y2="563.90" stroke="#d9e2c6" stroke-width="0.8" />
<rect x="396.50" y="551.95" width="42.75" height="12.35" fill="#f0f4e5" stroke="none" stroke-width="0.8" rx="0" />
<line x1="396.50" y1="552.35" x2="439.25" y2="552.35" stroke="#d9e2c6" stroke-width="0.8" />
<line x1="396.50" y1="563.90" x2="439.25" y2="563.90" stroke="#d9e2c6" stroke-width="0.8" />
<rect x="443.75" y="551.95" width="42.75" height="12.35" fill="#f0f4e5" stroke="none" stroke-width="0.8" rx="0" />
<line x1="443.75" y1="552.35" x2="486.50" y2="552.35" stroke="#d9e2c6" stroke-width="0.8" />
<line x1="443.75" y1="563.90" x2="486.50" y2="563.90" stroke="#d9e2c6" stroke-width="0.8" />
<rect x="491.00" y="551.95" width="42.75" height="12.35" fill="#f0f4e5" stroke="none" stroke-width="0.8" rx="0" />
<line x1="491.00" y1="552.35" x2="533.75" y2="552.35" stroke="#d9e2c6" stroke-width="0.8" />
<line x1="491.00" y1="563.90" x2="533.75" y2="563.90" stroke="#d9e2c6" stroke-width="0.8" />
<text x="181.62" y="561.25" font-size="8.2" fill="#2e2e2e" font-weight="normal" text-anchor="middle" textLength="15.2" lengthAdjust="spacingAndGlyphs" stroke="#2e2e2e" stroke-width="0.12">1172</text>
<text x="228.88" y="561.25" font-size="8.2" fill="#2e2e2e" font-weight="normal" text-anchor="middle" textLength="11.4" lengthAdjust="spacingAndGlyphs" stroke="#2e2e2e" stroke-width="0.12">899</text>
<text x="276.12" y="561.25" font-size="8.2" fill="#2e2e2e" font-weight="normal" text-anchor="middle" textLength="7.6" lengthAdjust="spacingAndGlyphs" stroke="#2e2e2e" stroke-width="0.12">73</text>
<text x="323.38" y="561.25" font-size="8.2" fill="#2e2e2e" font-weight="normal" text-anchor="middle" textLength="15.2" lengthAdjust="spacingAndGlyphs" stroke="#2e2e2e" stroke-width="0.12">1102</text>
<text x="370.62" y="561.25" font-size="8.2" fill="#2e2e2e" font-weight="normal" text-anchor="middle" textLength="11.4" lengthAdjust="spacingAndGlyphs" stroke="#2e2e2e" stroke-width="0.12">838</text>
<text x="417.88" y="561.25" font-size="8.2" fill="#2e2e2e" font-weight="normal" text-anchor="middle" textLength="11.4" lengthAdjust="spacingAndGlyphs" stroke="#2e2e2e" stroke-width="0.12">300</text>
<text x="465.12" y="561.25" font-size="8.2" fill="#2e2e2e" font-weight="normal" text-anchor="middle" textLength="11.4" lengthAdjust="spacingAndGlyphs" stroke="#2e2e2e" stroke-width="0.12">208</text>
<text x="512.38" y="561.25" font-size="8.2" fill="#2e2e2e" font-weight="normal" text-anchor="middle" textLength="16.4" lengthAdjust="spacingAndGlyphs" stroke="#2e2e2e" stroke-width="0.12">26,60</text>
<text x="181.62" y="573.60" font-size="8.2" fill="#2e2e2e" font-weight="normal" text-anchor="middle" textLength="15.2" lengthAdjust="spacingAndGlyphs" stroke="#2e2e2e" stroke-width="0.12">1448</text>
<text x="228.88" y="573.60" font-size="8.2" fill="#2e2e2e" font-weight="normal" text-anchor="middle" textLength="11.4" lengthAdjust="spacingAndGlyphs" stroke="#2e2e2e" stroke-width="0.12">450</text>
<text x="276.12" y="573.60" font-size="8.2" fill="#2e2e2e" font-weight="normal" text-anchor="middle" textLength="7.6" lengthAdjust="spacingAndGlyphs" stroke="#2e2e2e" stroke-width="0.12">51</text>
<text x="323.38" y="573.60" font-size="8.2" fill="#2e2e2e" font-weight="normal" text-anchor="middle" textLength="15.2" lengthAdjust="spacingAndGlyphs" stroke="#2e2e2e" stroke-width="0.12">1377</text>
<text x="370.62" y="573.60" font-size="8.2" fill="#2e2e2e" font-weight="normal" text-anchor="middle" textLength="11.4" lengthAdjust="spacingAndGlyphs" stroke="#2e2e2e" stroke-width="0.12">389</text>
<text x="417.88" y="573.60" font-size="8.2" fill="#2e2e2e" font-weight="normal" text-anchor="middle" textLength="11.4" lengthAdjust="spacingAndGlyphs" stroke="#2e2e2e" stroke-width="0.12">438</text>
<text x="465.12" y="573.60" font-size="8.2" fill="#2e2e2e" font-weight="normal" text-anchor="middle" textLength="11.4" lengthAdjust="spacingAndGlyphs" stroke="#2e2e2e" stroke-width="0.12">254</text>
<text x="512.38" y="573.60" font-size="8.2" fill="#2e2e2e" font-weight="normal" text-anchor="middle" textLength="16.4" lengthAdjust="spacingAndGlyphs" stroke="#2e2e2e" stroke-width="0.12">20,70</text>
<rect x="160.25" y="576.65" width="42.75" height="12.35" fill="#f0f4e5" stroke="none" stroke-width="0.8" rx="0" />
<line x1="160.25" y1="577.05" x2="203.00" y2="577.05" stroke="#d9e2c6" stroke-width="0.8" />
<line x1="160.25" y1="588.60" x2="203.00" y2="588.60" stroke="#d9e2c6" stroke-width="0.8" />
<rect x="207.50" y="576.65" width="42.75" height="12.35" fill="#f0f4e5" stroke="none" stroke-width="0.8" rx="0" />
<line x1="207.50" y1="577.05" x2="250.25" y2="577.05" stroke="#d9e2c6" stroke-width="0.8" />
<line x1="207.50" y1="588.60" x2="250.25" y2="588.60" stroke="#d9e2c6" stroke-width="0.8" />
<rect x="254.75" y="576.65" width="42.75" height="12.35" fill="#f0f4e5" stroke="none" stroke-width="0.8" rx="0" />
<line x1="254.75" y1="577.05" x2="297.50" y2="577.05" stroke="#d9e2c6" stroke-width="0.8" />
<line x1="254.75" y1="588.60" x2="297.50" y2="588.60" stroke="#d9e2c6" stroke-width="0.8" />
<rect x="302.00" y="576.65" width="42.75" height="12.35" fill="#f0f4e5" stroke="none" stroke-width="0.8" rx="0" />
<line x1="302.00" y1="577.05" x2="344.75" y2="577.05" stroke="#d9e2c6" stroke-width="0.8" />
<line x1="302.00" y1="588.60" x2="344.75" y2="588.60" stroke="#d9e2c6" stroke-width="0.8" />
<rect x="349.25" y="576.65" width="42.75" height="12.35" fill="#f0f4e5" stroke="none" stroke-width="0.8" rx="0" />
<line x1="349.25" y1="577.05" x2="392.00" y2="577.05" stroke="#d9e2c6" stroke-width="0.8" />
<line x1="349.25" y1="588.60" x2="392.00" y2="588.60" stroke="#d9e2c6" stroke-width="0.8" />
<rect x="396.50" y="576.65" width="42.75" height="12.35" fill="#f0f4e5" stroke="none" stroke-width="0.8" rx="0" />
<line x1="396.50" y1="577.05" x2="439.25" y2="577.05" stroke="#d9e2c6" stroke-width="0.8" />
<line x1="396.50" y1="588.60" x2="439.25" y2="588.60" stroke="#d9e2c6" stroke-width="0.8" />
<rect x="443.75" y="576.65" width="42.75" height="12.35" fill="#f0f4e5" stroke="none" stroke-width="0.8" rx="0" />
<line x1="443.75" y1="577.05" x2="486.50" y2="577.05" stroke="#d9e2c6" stroke-width="0.8" />
<line x1="443.75" y1="588.60" x2="486.50" y2="588.60" stroke="#d9e2c6" stroke-width="0.8" />
<rect x="491.00" y="576.65" width="42.75" height="12.35" fill="#f0f4e5" stroke="none" stroke-width="0.8" rx="0" />
<line x1="491.00" y1="577.05" x2="533.75" y2="577.05" stroke="#d9e2c6" stroke-width="0.8" />
<line x1="491.00" y1="588.60" x2="533.75" y2="588.60" stroke="#d9e2c6" stroke-width="0.8" />
<text x="181.62" y="585.95" font-size="8.2" fill="#2e2e2e" font-weight="normal" text-anchor="middle" textLength="15.2" lengthAdjust="spacingAndGlyphs" stroke="#2e2e2e" stroke-width="0.12">1448</text>
<text x="228.88" y="585.95" font-size="8.2" fill="#2e2e2e" font-weight="normal" text-anchor="middle" textLength="11.4" lengthAdjust="spacingAndGlyphs" stroke="#2e2e2e" stroke-width="0.12">524</text>
<text x="276.12" y="585.95" font-size="8.2" fill="#2e2e2e" font-weight="normal" text-anchor="middle" textLength="7.6" lengthAdjust="spacingAndGlyphs" stroke="#2e2e2e" stroke-width="0.12">64</text>
<text x="323.38" y="585.95" font-size="8.2" fill="#2e2e2e" font-weight="normal" text-anchor="middle" textLength="15.2" lengthAdjust="spacingAndGlyphs" stroke="#2e2e2e" stroke-width="0.12">1377</text>
<text x="370.62" y="585.95" font-size="8.2" fill="#2e2e2e" font-weight="normal" text-anchor="middle" textLength="11.4" lengthAdjust="spacingAndGlyphs" stroke="#2e2e2e" stroke-width="0.12">463</text>
<text x="417.88" y="585.95" font-size="8.2" fill="#2e2e2e" font-weight="normal" text-anchor="middle" textLength="11.4" lengthAdjust="spacingAndGlyphs" stroke="#2e2e2e" stroke-width="0.12">438</text>
<text x="465.12" y="585.95" font-size="8.2" fill="#2e2e2e" font-weight="normal" text-anchor="middle" textLength="11.4" lengthAdjust="spacingAndGlyphs" stroke="#2e2e2e" stroke-width="0.12">254</text>
<text x="512.38" y="585.95" font-size="8.2" fill="#2e2e2e" font-weight="normal" text-anchor="middle" textLength="16.4" lengthAdjust="spacingAndGlyphs" stroke="#2e2e2e" stroke-width="0.12">22,10</text>
<text x="181.62" y="598.30" font-size="8.2" fill="#2e2e2e" font-weight="normal" text-anchor="middle" textLength="15.2" lengthAdjust="spacingAndGlyphs" stroke="#2e2e2e" stroke-width="0.12">1448</text>
<text x="228.88" y="598.30" font-size="8.2" fill="#2e2e2e" font-weight="normal" text-anchor="middle" textLength="11.4" lengthAdjust="spacingAndGlyphs" stroke="#2e2e2e" stroke-width="0.12">599</text>
<text x="276.12" y="598.30" font-size="8.2" fill="#2e2e2e" font-weight="normal" text-anchor="middle" textLength="7.6" lengthAdjust="spacingAndGlyphs" stroke="#2e2e2e" stroke-width="0.12">60</text>
<text x="323.38" y="598.30" font-size="8.2" fill="#2e2e2e" font-weight="normal" text-anchor="middle" textLength="15.2" lengthAdjust="spacingAndGlyphs" stroke="#2e2e2e" stroke-width="0.12">1377</text>
<text x="370.62" y="598.30" font-size="8.2" fill="#2e2e2e" font-weight="normal" text-anchor="middle" textLength="11.4" lengthAdjust="spacingAndGlyphs" stroke="#2e2e2e" stroke-width="0.12">538</text>
<text x="417.88" y="598.30" font-size="8.2" fill="#2e2e2e" font-weight="normal" text-anchor="middle" textLength="11.4" lengthAdjust="spacingAndGlyphs" stroke="#2e2e2e" stroke-width="0.12">438</text>
<text x="465.12" y="598.30" font-size="8.2" fill="#2e2e2e" font-weight="normal" text-anchor="middle" textLength="11.4" lengthAdjust="spacingAndGlyphs" stroke="#2e2e2e" stroke-width="0.12">254</text>
<text x="512.38" y="598.30" font-size="8.2" fill="#2e2e2e" font-weight="normal" text-anchor="middle" textLength="16.4" lengthAdjust="spacingAndGlyphs" stroke="#2e2e2e" stroke-width="0.12">24,70</text>
<rect x="160.25" y="601.35" width="42.75" height="12.35" fill="#f0f4e5" stroke="none" stroke-width="0.8" rx="0" />
<line x1="160.25" y1="601.75" x2="203.00" y2="601.75" stroke="#d9e2c6" stroke-width="0.8" />
<line x1="160.25" y1="613.30" x2="203.00" y2="613.30" stroke="#d9e2c6" stroke-width="0.8" />
<rect x="207.50" y="601.35" width="42.75" height="12.35" fill="#f0f4e5" stroke="none" stroke-width="0.8" rx="0" />
<line x1="207.50" y1="601.75" x2="250.25" y2="601.75" stroke="#d9e2c6" stroke-width="0.8" />
<line x1="207.50" y1="613.30" x2="250.25" y2="613.30" stroke="#d9e2c6" stroke-width="0.8" />
<rect x="254.75" y="601.35" width="42.75" height="12.35" fill="#f0f4e5" stroke="none" stroke-width="0.8" rx="0" />
<line x1="254.75" y1="601.75" x2="297.50" y2="601.75" stroke="#d9e2c6" stroke-width="0.8" />
<line x1="254.75" y1="613.30" x2="297.50" y2="613.30" stroke="#d9e2c6" stroke-width="0.8" />
<rect x="302.00" y="601.35" width="42.75" height="12.35" fill="#f0f4e5" stroke="none" stroke-width="0.8" rx="0" />
<line x1="302.00" y1="601.75" x2="344.75" y2="601.75" stroke="#d9e2c6" stroke-width="0.8" />
<line x1="302.00" y1="613.30" x2="344.75" y2="613.30" stroke="#d9e2c6" stroke-width="0.8" />
<rect x="349.25" y="601.35" width="42.75" height="12.35" fill="#f0f4e5" stroke="none" stroke-width="0.8" rx="0" />
<line x1="349.25" y1="601.75" x2="392.00" y2="601.75" stroke="#d9e2c6" stroke-width="0.8" />
<line x1="349.25" y1="613.30" x2="392.00" y2="613.30" stroke="#d9e2c6" stroke-width="0.8" />
<rect x="396.50" y="601.35" width="42.75" height="12.35" fill="#f0f4e5" stroke="none" stroke-width="0.8" rx="0" />
<line x1="396.50" y1="601.75" x2="439.25" y2="601.75" stroke="#d9e2c6" stroke-width="0.8" />
<line x1="396.50" y1="613.30" x2="439.25" y2="613.30" stroke="#d9e2c6" stroke-width="0.8" />
<rect x="443.75" y="601.35" width="42.75" height="12.35" fill="#f0f4e5" stroke="none" stroke-width="0.8" rx="0" />
<line x1="443.75" y1="601.75" x2="486.50" y2="601.75" stroke="#d9e2c6" stroke-width="0.8" />
<line x1="443.75" y1="613.30" x2="486.50" y2="613.30" stroke="#d9e2c6" stroke-width="0.8" />
<rect x="491.00" y="601.35" width="42.75" height="12.35" fill="#f0f4e5" stroke="none" stroke-width="0.8" rx="0" />
<line x1="491.00" y1="601.75" x2="533.75" y2="601.75" stroke="#d9e2c6" stroke-width="0.8" />
<line x1="491.00" y1="613.30" x2="533.75" y2="613.30" stroke="#d9e2c6" stroke-width="0.8" />
<text x="181.62" y="610.65" font-size="8.2" fill="#2e2e2e" font-weight="normal" text-anchor="middle" textLength="15.2" lengthAdjust="spacingAndGlyphs" stroke="#2e2e2e" stroke-width="0.12">1448</text>
<text x="228.88" y="610.65" font-size="8.2" fill="#2e2e2e" font-weight="normal" text-anchor="middle" textLength="11.4" lengthAdjust="spacingAndGlyphs" stroke="#2e2e2e" stroke-width="0.12">749</text>
<text x="276.12" y="610.65" font-size="8.2" fill="#2e2e2e" font-weight="normal" text-anchor="middle" textLength="7.6" lengthAdjust="spacingAndGlyphs" stroke="#2e2e2e" stroke-width="0.12">70</text>
<text x="323.38" y="610.65" font-size="8.2" fill="#2e2e2e" font-weight="normal" text-anchor="middle" textLength="15.2" lengthAdjust="spacingAndGlyphs" stroke="#2e2e2e" stroke-width="0.12">1377</text>
<text x="370.62" y="610.65" font-size="8.2" fill="#2e2e2e" font-weight="normal" text-anchor="middle" textLength="11.4" lengthAdjust="spacingAndGlyphs" stroke="#2e2e2e" stroke-width="0.12">688</text>
<text x="417.88" y="610.65" font-size="8.2" fill="#2e2e2e" font-weight="normal" text-anchor="middle" textLength="11.4" lengthAdjust="spacingAndGlyphs" stroke="#2e2e2e" stroke-width="0.12">438</text>
<text x="465.12" y="610.65" font-size="8.2" fill="#2e2e2e" font-weight="normal" text-anchor="middle" textLength="11.4" lengthAdjust="spacingAndGlyphs" stroke="#2e2e2e" stroke-width="0.12">254</text>
<text x="512.38" y="610.65" font-size="8.2" fill="#2e2e2e" font-weight="normal" text-anchor="middle" textLength="16.4" lengthAdjust="spacingAndGlyphs" stroke="#2e2e2e" stroke-width="0.12">28,80</text>
<text x="181.62" y="623.00" font-size="8.2" fill="#2e2e2e" font-weight="normal" text-anchor="middle" textLength="15.2" lengthAdjust="spacingAndGlyphs" stroke="#2e2e2e" stroke-width="0.12">1448</text>
<text x="228.88" y="623.00" font-size="8.2" fill="#2e2e2e" font-weight="normal" text-anchor="middle" textLength="11.4" lengthAdjust="spacingAndGlyphs" stroke="#2e2e2e" stroke-width="0.12">899</text>
<text x="276.12" y="623.00" font-size="8.2" fill="#2e2e2e" font-weight="normal" text-anchor="middle" textLength="7.6" lengthAdjust="spacingAndGlyphs" stroke="#2e2e2e" stroke-width="0.12">73</text>
<text x="323.38" y="623.00" font-size="8.2" fill="#2e2e2e" font-weight="normal" text-anchor="middle" textLength="15.2" lengthAdjust="spacingAndGlyphs" stroke="#2e2e2e" stroke-width="0.12">1377</text>
<text x="370.62" y="623.00" font-size="8.2" fill="#2e2e2e" font-weight="normal" text-anchor="middle" textLength="11.4" lengthAdjust="spacingAndGlyphs" stroke="#2e2e2e" stroke-width="0.12">838</text>
<text x="417.88" y="623.00" font-size="8.2" fill="#2e2e2e" font-weight="normal" text-anchor="middle" textLength="11.4" lengthAdjust="spacingAndGlyphs" stroke="#2e2e2e" stroke-width="0.12">438</text>
<text x="465.12" y="623.00" font-size="8.2" fill="#2e2e2e" font-weight="normal" text-anchor="middle" textLength="11.4" lengthAdjust="spacingAndGlyphs" stroke="#2e2e2e" stroke-width="0.12">254</text>
<text x="512.38" y="623.00" font-size="8.2" fill="#2e2e2e" font-weight="normal" text-anchor="middle" textLength="16.4" lengthAdjust="spacingAndGlyphs" stroke="#2e2e2e" stroke-width="0.12">32,90</text>
<rect x="160.25" y="626.05" width="42.75" height="12.35" fill="#f0f4e5" stroke="none" stroke-width="0.8" rx="0" />
<line x1="160.25" y1="626.45" x2="203.00" y2="626.45" stroke="#d9e2c6" stroke-width="0.8" />
<line x1="160.25" y1="638.00" x2="203.00" y2="638.00" stroke="#d9e2c6" stroke-width="0.8" />
<rect x="207.50" y="626.05" width="42.75" height="12.35" fill="#f0f4e5" stroke="none" stroke-width="0.8" rx="0" />
<line x1="207.50" y1="626.45" x2="250.25" y2="626.45" stroke="#d9e2c6" stroke-width="0.8" />
<line x1="207.50" y1="638.00" x2="250.25" y2="638.00" stroke="#d9e2c6" stroke-width="0.8" />
<rect x="254.75" y="626.05" width="42.75" height="12.35" fill="#f0f4e5" stroke="none" stroke-width="0.8" rx="0" />
<line x1="254.75" y1="626.45" x2="297.50" y2="626.45" stroke="#d9e2c6" stroke-width="0.8" />
<line x1="254.75" y1="638.00" x2="297.50" y2="638.00" stroke="#d9e2c6" stroke-width="0.8" />
<rect x="302.00" y="626.05" width="42.75" height="12.35" fill="#f0f4e5" stroke="none" stroke-width="0.8" rx="0" />
<line x1="302.00" y1="626.45" x2="344.75" y2="626.45" stroke="#d9e2c6" stroke-width="0.8" />
<line x1="302.00" y1="638.00" x2="344.75" y2="638.00" stroke="#d9e2c6" stroke-width="0.8" />
<rect x="349.25" y="626.05" width="42.75" height="12.35" fill="#f0f4e5" stroke="none" stroke-width="0.8" rx="0" />
<line x1="349.25" y1="626.45" x2="392.00" y2="626.45" stroke="#d9e2c6" stroke-width="0.8" />
<line x1="349.25" y1="638.00" x2="392.00" y2="638.00" stroke="#d9e2c6" stroke-width="0.8" />
<rect x="396.50" y="626.05" width="42.75" height="12.35" fill="#f0f4e5" stroke="none" stroke-width="0.8" rx="0" />
<line x1="396.50" y1="626.45" x2="439.25" y2="626.45" stroke="#d9e2c6" stroke-width="0.8" />
<line x1="396.50" y1="638.00" x2="439.25" y2="638.00" stroke="#d9e2c6" stroke-width="0.8" />
<rect x="443.75" y="626.05" width="42.75" height="12.35" fill="#f0f4e5" stroke="none" stroke-width="0.8" rx="0" />
<line x1="443.75" y1="626.45" x2="486.50" y2="626.45" stroke="#d9e2c6" stroke-width="0.8" />
<line x1="443.75" y1="638.00" x2="486.50" y2="638.00" stroke="#d9e2c6" stroke-width="0.8" />
<rect x="491.00" y="626.05" width="42.75" height="12.35" fill="#f0f4e5" stroke="none" stroke-width="0.8" rx="0" />
<line x1="491.00" y1="626.45" x2="533.75" y2="626.45" stroke="#d9e2c6" stroke-width="0.8" />
<line x1="491.00" y1="638.00" x2="533.75" y2="638.00" stroke="#d9e2c6" stroke-width="0.8" />
<text x="181.62" y="635.35" font-size="8.2" fill="#2e2e2e" font-weight="normal" text-anchor="middle" textLength="15.2" lengthAdjust="spacingAndGlyphs" stroke="#2e2e2e" stroke-width="0.12">1770</text>
<text x="228.88" y="635.35" font-size="8.2" fill="#2e2e2e" font-weight="normal" text-anchor="middle" textLength="11.4" lengthAdjust="spacingAndGlyphs" stroke="#2e2e2e" stroke-width="0.12">450</text>
<text x="276.12" y="635.35" font-size="8.2" fill="#2e2e2e" font-weight="normal" text-anchor="middle" textLength="7.6" lengthAdjust="spacingAndGlyphs" stroke="#2e2e2e" stroke-width="0.12">51</text>
<text x="323.38" y="635.35" font-size="8.2" fill="#2e2e2e" font-weight="normal" text-anchor="middle" textLength="15.2" lengthAdjust="spacingAndGlyphs" stroke="#2e2e2e" stroke-width="0.12">1700</text>
<text x="370.62" y="635.35" font-size="8.2" fill="#2e2e2e" font-weight="normal" text-anchor="middle" textLength="11.4" lengthAdjust="spacingAndGlyphs" stroke="#2e2e2e" stroke-width="0.12">389</text>
<text x="417.88" y="635.35" font-size="8.2" fill="#2e2e2e" font-weight="normal" text-anchor="middle" textLength="11.4" lengthAdjust="spacingAndGlyphs" stroke="#2e2e2e" stroke-width="0.12">438</text>
<text x="465.12" y="635.35" font-size="8.2" fill="#2e2e2e" font-weight="normal" text-anchor="middle" textLength="11.4" lengthAdjust="spacingAndGlyphs" stroke="#2e2e2e" stroke-width="0.12">254</text>
<text x="512.38" y="635.35" font-size="8.2" fill="#2e2e2e" font-weight="normal" text-anchor="middle" textLength="16.4" lengthAdjust="spacingAndGlyphs" stroke="#2e2e2e" stroke-width="0.12">25,20</text>
<text x="181.62" y="647.70" font-size="8.2" fill="#2e2e2e" font-weight="normal" text-anchor="middle" textLength="15.2" lengthAdjust="spacingAndGlyphs" stroke="#2e2e2e" stroke-width="0.12">1770</text>
<text x="228.88" y="647.70" font-size="8.2" fill="#2e2e2e" font-weight="normal" text-anchor="middle" textLength="11.4" lengthAdjust="spacingAndGlyphs" stroke="#2e2e2e" stroke-width="0.12">524</text>
<text x="276.12" y="647.70" font-size="8.2" fill="#2e2e2e" font-weight="normal" text-anchor="middle" textLength="7.6" lengthAdjust="spacingAndGlyphs" stroke="#2e2e2e" stroke-width="0.12">64</text>
<text x="323.38" y="647.70" font-size="8.2" fill="#2e2e2e" font-weight="normal" text-anchor="middle" textLength="15.2" lengthAdjust="spacingAndGlyphs" stroke="#2e2e2e" stroke-width="0.12">1700</text>
<text x="370.62" y="647.70" font-size="8.2" fill="#2e2e2e" font-weight="normal" text-anchor="middle" textLength="11.4" lengthAdjust="spacingAndGlyphs" stroke="#2e2e2e" stroke-width="0.12">463</text>
<text x="417.88" y="647.70" font-size="8.2" fill="#2e2e2e" font-weight="normal" text-anchor="middle" textLength="11.4" lengthAdjust="spacingAndGlyphs" stroke="#2e2e2e" stroke-width="0.12">438</text>
<text x="465.12" y="647.70" font-size="8.2" fill="#2e2e2e" font-weight="normal" text-anchor="middle" textLength="11.4" lengthAdjust="spacingAndGlyphs" stroke="#2e2e2e" stroke-width="0.12">254</text>
<text x="512.38" y="647.70" font-size="8.2" fill="#2e2e2e" font-weight="normal" text-anchor="middle" textLength="16.4" lengthAdjust="spacingAndGlyphs" stroke="#2e2e2e" stroke-width="0.12">26,80</text>
<rect x="160.25" y="650.75" width="42.75" height="12.35" fill="#f0f4e5" stroke="none" stroke-width="0.8" rx="0" />
<line x1="160.25" y1="651.15" x2="203.00" y2="651.15" stroke="#d9e2c6" stroke-width="0.8" />
<line x1="160.25" y1="662.70" x2="203.00" y2="662.70" stroke="#d9e2c6" stroke-width="0.8" />
<rect x="207.50" y="650.75" width="42.75" height="12.35" fill="#f0f4e5" stroke="none" stroke-width="0.8" rx="0" />
<line x1="207.50" y1="651.15" x2="250.25" y2="651.15" stroke="#d9e2c6" stroke-width="0.8" />
<line x1="207.50" y1="662.70" x2="250.25" y2="662.70" stroke="#d9e2c6" stroke-width="0.8" />
<rect x="254.75" y="650.75" width="42.75" height="12.35" fill="#f0f4e5" stroke="none" stroke-width="0.8" rx="0" />
<line x1="254.75" y1="651.15" x2="297.50" y2="651.15" stroke="#d9e2c6" stroke-width="0.8" />
<line x1="254.75" y1="662.70" x2="297.50" y2="662.70" stroke="#d9e2c6" stroke-width="0.8" />
<rect x="302.00" y="650.75" width="42.75" height="12.35" fill="#f0f4e5" stroke="none" stroke-width="0.8" rx="0" />
<line x1="302.00" y1="651.15" x2="344.75" y2="651.15" stroke="#d9e2c6" stroke-width="0.8" />
<line x1="302.00" y1="662.70" x2="344.75" y2="662.70" stroke="#d9e2c6" stroke-width="0.8" />
<rect x="349.25" y="650.75" width="42.75" height="12.35" fill="#f0f4e5" stroke="none" stroke-width="0.8" rx="0" />
<line x1="349.25" y1="651.15" x2="392.00" y2="651.15" stroke="#d9e2c6" stroke-width="0.8" />
<line x1="349.25" y1="662.70" x2="392.00" y2="662.70" stroke="#d9e2c6" stroke-width="0.8" />
<rect x="396.50" y="650.75" width="42.75" height="12.35" fill="#f0f4e5" stroke="none" stroke-width="0.8" rx="0" />
<line x1="396.50" y1="651.15" x2="439.25" y2="651.15" stroke="#d9e2c6" stroke-width="0.8" />
<line x1="396.50" y1="662.70" x2="439.25" y2="662.70" stroke="#d9e2c6" stroke-width="0.8" />
<rect x="443.75" y="650.75" width="42.75" height="12.35" fill="#f0f4e5" stroke="none" stroke-width="0.8" rx="0" />
<line x1="443.75" y1="651.15" x2="486.50" y2="651.15" stroke="#d9e2c6" stroke-width="0.8" />
<line x1="443.75" y1="662.70" x2="486.50" y2="662.70" stroke="#d9e2c6" stroke-width="0.8" />
<rect x="491.00" y="650.75" width="42.75" height="12.35" fill="#f0f4e5" stroke="none" stroke-width="0.8" rx="0" />
<line x1="491.00" y1="651.15" x2="533.75" y2="651.15" stroke="#d9e2c6" stroke-width="0.8" />
<line x1="491.00" y1="662.70" x2="533.75" y2="662.70" stroke="#d9e2c6" stroke-width="0.8" />
<text x="181.62" y="660.05" font-size="8.2" fill="#2e2e2e" font-weight="normal" text-anchor="middle" textLength="15.2" lengthAdjust="spacingAndGlyphs" stroke="#2e2e2e" stroke-width="0.12">1770</text>
<text x="228.88" y="660.05" font-size="8.2" fill="#2e2e2e" font-weight="normal" text-anchor="middle" textLength="11.4" lengthAdjust="spacingAndGlyphs" stroke="#2e2e2e" stroke-width="0.12">599</text>
<text x="276.12" y="660.05" font-size="8.2" fill="#2e2e2e" font-weight="normal" text-anchor="middle" textLength="7.6" lengthAdjust="spacingAndGlyphs" stroke="#2e2e2e" stroke-width="0.12">60</text>
<text x="323.38" y="660.05" font-size="8.2" fill="#2e2e2e" font-weight="normal" text-anchor="middle" textLength="15.2" lengthAdjust="spacingAndGlyphs" stroke="#2e2e2e" stroke-width="0.12">1700</text>
<text x="370.62" y="660.05" font-size="8.2" fill="#2e2e2e" font-weight="normal" text-anchor="middle" textLength="11.4" lengthAdjust="spacingAndGlyphs" stroke="#2e2e2e" stroke-width="0.12">538</text>
<text x="417.88" y="660.05" font-size="8.2" fill="#2e2e2e" font-weight="normal" text-anchor="middle" textLength="11.4" lengthAdjust="spacingAndGlyphs" stroke="#2e2e2e" stroke-width="0.12">438</text>
<text x="465.12" y="660.05" font-size="8.2" fill="#2e2e2e" font-weight="normal" text-anchor="middle" textLength="11.4" lengthAdjust="spacingAndGlyphs" stroke="#2e2e2e" stroke-width="0.12">254</text>
<text x="512.38" y="660.05" font-size="8.2" fill="#2e2e2e" font-weight="normal" text-anchor="middle" textLength="16.4" lengthAdjust="spacingAndGlyphs" stroke="#2e2e2e" stroke-width="0.12">30,00</text>
<text x="181.62" y="672.40" font-size="8.2" fill="#2e2e2e" font-weight="normal" text-anchor="middle" textLength="15.2" lengthAdjust="spacingAndGlyphs" stroke="#2e2e2e" stroke-width="0.12">1770</text>
<text x="228.88" y="672.40" font-size="8.2" fill="#2e2e2e" font-weight="normal" text-anchor="middle" textLength="11.4" lengthAdjust="spacingAndGlyphs" stroke="#2e2e2e" stroke-width="0.12">749</text>
<text x="276.12" y="672.40" font-size="8.2" fill="#2e2e2e" font-weight="normal" text-anchor="middle" textLength="7.6" lengthAdjust="spacingAndGlyphs" stroke="#2e2e2e" stroke-width="0.12">70</text>
<text x="323.38" y="672.40" font-size="8.2" fill="#2e2e2e" font-weight="normal" text-anchor="middle" textLength="15.2" lengthAdjust="spacingAndGlyphs" stroke="#2e2e2e" stroke-width="0.12">1700</text>
<text x="370.62" y="672.40" font-size="8.2" fill="#2e2e2e" font-weight="normal" text-anchor="middle" textLength="11.4" lengthAdjust="spacingAndGlyphs" stroke="#2e2e2e" stroke-width="0.12">688</text>
<text x="417.88" y="672.40" font-size="8.2" fill="#2e2e2e" font-weight="normal" text-anchor="middle" textLength="11.4" lengthAdjust="spacingAndGlyphs" stroke="#2e2e2e" stroke-width="0.12">438</text>
<text x="465.12" y="672.40" font-size="8.2" fill="#2e2e2e" font-weight="normal" text-anchor="middle" textLength="11.4" lengthAdjust="spacingAndGlyphs" stroke="#2e2e2e" stroke-width="0.12">254</text>
<text x="512.38" y="672.40" font-size="8.2" fill="#2e2e2e" font-weight="normal" text-anchor="middle" textLength="16.4" lengthAdjust="spacingAndGlyphs" stroke="#2e2e2e" stroke-width="0.12">35,00</text>
<rect x="160.25" y="675.45" width="42.75" height="12.35" fill="#f0f4e5" stroke="none" stroke-width="0.8" rx="0" />
<line x1="160.25" y1="675.85" x2="203.00" y2="675.85" stroke="#d9e2c6" stroke-width="0.8" />
<rect x="207.50" y="675.45" width="42.75" height="12.35" fill="#f0f4e5" stroke="none" stroke-width="0.8" rx="0" />
<line x1="207.50" y1="675.85" x2="250.25" y2="675.85" stroke="#d9e2c6" stroke-width="0.8" />
<rect x="254.75" y="675.45" width="42.75" height="12.35" fill="#f0f4e5" stroke="none" stroke-width="0.8" rx="0" />
<line x1="254.75" y1="675.85" x2="297.50" y2="675.85" stroke="#d9e2c6" stroke-width="0.8" />
<rect x="302.00" y="675.45" width="42.75" height="12.35" fill="#f0f4e5" stroke="none" stroke-width="0.8" rx="0" />
<line x1="302.00" y1="675.85" x2="344.75" y2="675.85" stroke="#d9e2c6" stroke-width="0.8" />
<rect x="349.25" y="675.45" width="42.75" height="12.35" fill="#f0f4e5" stroke="none" stroke-width="0.8" rx="0" />
<line x1="349.25" y1="675.85" x2="392.00" y2="675.85" stroke="#d9e2c6" stroke-width="0.8" />
<rect x="396.50" y="675.45" width="42.75" height="12.35" fill="#f0f4e5" stroke="none" stroke-width="0.8" rx="0" />
<line x1="396.50" y1="675.85" x2="439.25" y2="675.85" stroke="#d9e2c6" stroke-width="0.8" />
<rect x="443.75" y="675.45" width="42.75" height="12.35" fill="#f0f4e5" stroke="none" stroke-width="0.8" rx="0" />
<line x1="443.75" y1="675.85" x2="486.50" y2="675.85" stroke="#d9e2c6" stroke-width="0.8" />
<rect x="491.00" y="675.45" width="42.75" height="12.35" fill="#f0f4e5" stroke="none" stroke-width="0.8" rx="0" />
<line x1="491.00" y1="675.85" x2="533.75" y2="675.85" stroke="#d9e2c6" stroke-width="0.8" />
<text x="181.62" y="684.75" font-size="8.2" fill="#2e2e2e" font-weight="normal" text-anchor="middle" textLength="15.2" lengthAdjust="spacingAndGlyphs" stroke="#2e2e2e" stroke-width="0.12">1770</text>
<text x="228.88" y="684.75" font-size="8.2" fill="#2e2e2e" font-weight="normal" text-anchor="middle" textLength="11.4" lengthAdjust="spacingAndGlyphs" stroke="#2e2e2e" stroke-width="0.12">899</text>
<text x="276.12" y="684.75" font-size="8.2" fill="#2e2e2e" font-weight="normal" text-anchor="middle" textLength="7.6" lengthAdjust="spacingAndGlyphs" stroke="#2e2e2e" stroke-width="0.12">73</text>
<text x="323.38" y="684.75" font-size="8.2" fill="#2e2e2e" font-weight="normal" text-anchor="middle" textLength="15.2" lengthAdjust="spacingAndGlyphs" stroke="#2e2e2e" stroke-width="0.12">1700</text>
<text x="370.62" y="684.75" font-size="8.2" fill="#2e2e2e" font-weight="normal" text-anchor="middle" textLength="11.4" lengthAdjust="spacingAndGlyphs" stroke="#2e2e2e" stroke-width="0.12">838</text>
<text x="417.88" y="684.75" font-size="8.2" fill="#2e2e2e" font-weight="normal" text-anchor="middle" textLength="11.4" lengthAdjust="spacingAndGlyphs" stroke="#2e2e2e" stroke-width="0.12">438</text>
<text x="465.12" y="684.75" font-size="8.2" fill="#2e2e2e" font-weight="normal" text-anchor="middle" textLength="11.4" lengthAdjust="spacingAndGlyphs" stroke="#2e2e2e" stroke-width="0.12">254</text>
<text x="512.38" y="684.75" font-size="8.2" fill="#2e2e2e" font-weight="normal" text-anchor="middle" textLength="16.4" lengthAdjust="spacingAndGlyphs" stroke="#2e2e2e" stroke-width="0.12">39,90</text>
<line x1="158" y1="688.9" x2="536" y2="688.9" stroke="#555" stroke-width="1.3" />
<line x1="187" y1="696.9" x2="187" y2="700" stroke="#999" stroke-width="1" />
<rect x="550.6" y="565.2" width="116" height="115.1" fill="#ebebeb" stroke="none" stroke-width="0.8" rx="0" />
<text x="565" y="586" font-size="8.0" fill="#2a2a2a" font-weight="bold" text-anchor="start" textLength="27.4" lengthAdjust="spacingAndGlyphs" stroke="#2a2a2a" stroke-width="0.12">Achtung:</text>
<text x="565" y="596.2" font-size="8.0" fill="#2a2a2a" font-weight="normal" text-anchor="start" textLength="70.6" lengthAdjust="spacingAndGlyphs" stroke="#2a2a2a" stroke-width="0.12">Bei der Installation ist die</text>
<text x="565" y="606.2" font-size="8.0" fill="#2a2a2a" font-weight="normal" text-anchor="start" textLength="81.2" lengthAdjust="spacingAndGlyphs" stroke="#2a2a2a" stroke-width="0.12">VDE 0100 Teil 701 zu beach-</text>
<text x="565" y="616.2" font-size="8.0" fill="#2a2a2a" font-weight="normal" text-anchor="start" textLength="81.2" lengthAdjust="spacingAndGlyphs" stroke="#2a2a2a" stroke-width="0.12">ten! Schutzbereichseinteilung</text>
<text x="565" y="626.3" font-size="8.0" fill="#2a2a2a" font-weight="normal" text-anchor="start" textLength="87.3" lengthAdjust="spacingAndGlyphs" stroke="#2a2a2a" stroke-width="0.12">siehe Seite 410. Bei Installation</text>
<text x="565" y="636.3" font-size="8.0" fill="#2a2a2a" font-weight="normal" text-anchor="start" textLength="86.2" lengthAdjust="spacingAndGlyphs" stroke="#2a2a2a" stroke-width="0.12">ist eine bauseitige Fehlerstrom-</text>
<text x="565" y="646.4" font-size="8.0" fill="#2a2a2a" font-weight="normal" text-anchor="start" textLength="78" lengthAdjust="spacingAndGlyphs" stroke="#2a2a2a" stroke-width="0.12">schutzeinrichtung – Auslöse-</text>
<text x="565" y="656.4" font-size="8.0" fill="#2a2a2a" font-weight="normal" text-anchor="start" textLength="76.6" lengthAdjust="spacingAndGlyphs" stroke="#2a2a2a" stroke-width="0.12">grenze kleiner gleich 30 mA</text>
<text x="565" y="666.4" font-size="8.0" fill="#2a2a2a" font-weight="normal" text-anchor="start" textLength="37.9" lengthAdjust="spacingAndGlyphs" stroke="#2a2a2a" stroke-width="0.12">– vorzusehen.</text>
</svg>
</body></html>
